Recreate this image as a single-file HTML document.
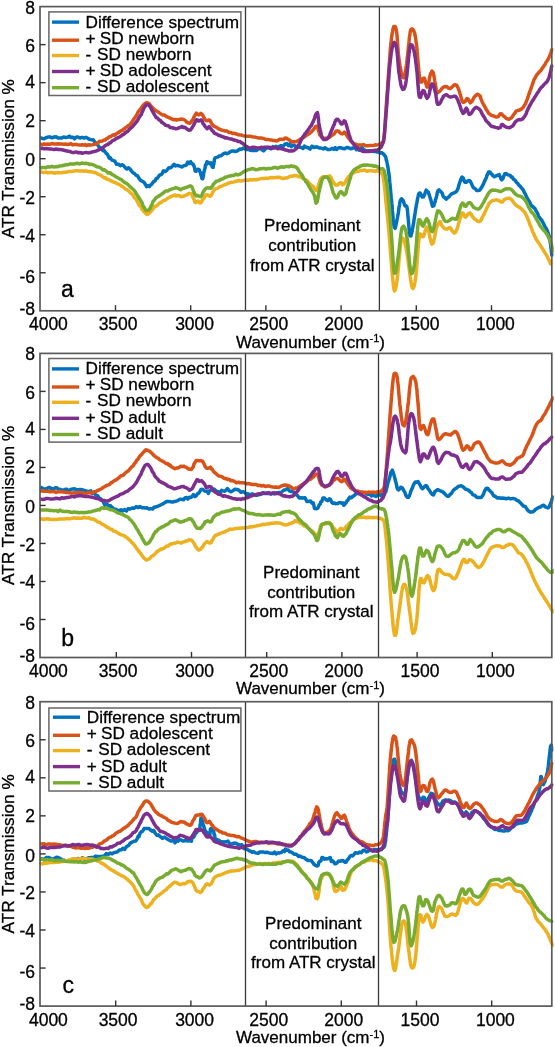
<!DOCTYPE html>
<html><head><meta charset="utf-8"><style>
html,body{margin:0;padding:0;background:#fff;overflow:hidden}
svg{display:block;will-change:transform}
text{font-family:"Liberation Sans", sans-serif;fill:#000;stroke:#000;stroke-width:0.3px}
</style></head><body>
<svg width="555" height="1047" viewBox="0 0 555 1047">
<rect width="555" height="1047" fill="#fff"/>
<clipPath id="clip0"><rect x="40.0" y="5.6" width="513.8" height="306.2"/></clipPath>
<path d="M40.0,137.5 L42.4,138.5 L44.1,138.7 L45.9,137.7 L47.9,137.1 L49.9,136.9 L52.0,137.8 L54.1,137.0 L56.1,136.7 L58.0,137.9 L59.8,137.9 L61.7,138.1 L63.6,136.9 L65.5,137.5 L67.5,137.3 L69.3,136.1 L71.1,137.6 L72.9,137.3 L74.5,138.8 L76.0,137.2 L77.4,136.9 L79.9,138.0 L82.1,137.3 L84.1,138.0 L85.9,137.3 L87.7,138.2 L89.3,139.3 L90.7,139.6 L92.1,139.9 L93.4,139.8 L94.6,141.8 L95.7,142.6 L96.8,144.2 L97.8,145.0 L98.9,147.0 L100.1,147.4 L101.5,149.0 L102.9,150.7 L104.4,150.8 L105.9,152.9 L107.5,154.5 L109.3,158.2 L110.2,157.7 L111.1,159.2 L112.0,160.2 L112.9,160.4 L114.8,161.1 L116.6,164.3 L118.5,164.2 L120.3,165.7 L122.1,164.7 L123.9,166.0 L125.5,168.0 L127.0,169.0 L128.4,167.7 L129.7,168.6 L131.2,170.6 L132.7,172.4 L134.3,173.4 L135.9,175.1 L137.6,175.8 L139.2,178.7 L140.8,180.6 L142.3,181.2 L143.9,182.2 L145.3,184.2 L146.6,186.6 L148.1,185.6 L149.4,186.6 L150.8,184.8 L151.7,184.3 L152.7,182.8 L153.8,181.4 L155.0,180.9 L156.2,178.6 L157.5,178.1 L158.9,175.9 L160.3,174.7 L161.8,174.3 L163.4,170.8 L165.1,171.6 L166.9,170.3 L168.8,167.8 L170.7,167.8 L172.4,166.2 L174.0,164.3 L175.6,165.9 L177.2,165.4 L178.6,165.8 L180.0,166.1 L181.8,167.0 L183.4,165.9 L184.9,165.5 L186.4,165.0 L187.8,162.1 L189.1,163.4 L190.7,161.7 L191.8,163.8 L192.9,164.0 L193.8,165.5 L194.5,167.7 L195.2,171.1 L196.0,171.3 L197.1,169.4 L198.2,169.3 L199.2,169.6 L199.8,171.5 L200.5,172.7 L201.0,175.4 L201.4,175.9 L201.9,178.4 L202.7,178.8 L203.0,177.3 L203.4,176.2 L203.7,173.2 L204.1,171.2 L204.5,169.9 L205.0,168.2 L205.5,164.8 L206.1,165.0 L207.0,161.8 L208.1,162.3 L209.6,163.6 L210.9,162.8 L211.4,163.9 L211.9,165.8 L212.3,167.0 L213.1,167.3 L213.4,165.1 L213.8,164.4 L214.1,161.9 L214.5,159.1 L215.2,157.9 L216.3,157.4 L217.8,157.1 L219.2,156.0 L220.8,155.8 L222.6,154.5 L224.4,153.2 L225.7,153.1 L227.0,153.7 L228.4,153.1 L230.0,151.9 L231.7,150.9 L233.4,151.0 L235.3,151.5 L237.4,150.8 L240.0,149.0 L241.5,149.4 L243.1,148.3 L244.8,148.6 L246.6,149.6 L248.5,149.5 L250.4,150.3 L252.3,150.6 L254.3,150.3 L256.2,150.6 L258.0,149.1 L259.8,148.5 L261.7,149.5 L263.6,150.9 L265.5,148.9 L267.4,147.5 L269.3,148.2 L271.1,148.8 L272.9,146.6 L274.5,147.7 L276.0,146.3 L277.4,147.5 L278.7,146.8 L281.0,145.7 L283.1,146.4 L285.0,144.0 L286.8,143.6 L288.4,145.6 L289.9,143.8 L291.2,146.6 L292.5,145.4 L294.0,145.1 L295.5,146.3 L297.0,146.8 L298.7,147.3 L300.6,147.3 L303.0,148.5 L304.5,146.0 L306.2,147.4 L308.0,147.6 L310.0,149.1 L312.0,146.2 L314.0,147.5 L316.0,146.8 L317.8,147.2 L319.5,148.1 L321.0,148.0 L323.3,149.0 L325.0,147.7 L326.5,148.7 L328.1,149.6 L330.0,149.5 L332.4,148.4 L333.8,149.4 L335.2,147.6 L336.6,149.5 L338.0,148.1 L339.4,147.7 L340.8,147.8 L342.2,148.2 L344.6,148.8 L346.7,147.6 L348.7,147.7 L350.7,148.8 L352.8,148.0 L355.2,147.7 L356.5,149.7 L357.9,148.9 L359.3,150.2 L360.7,148.7 L362.1,147.4 L363.5,149.9 L364.8,150.0 L366.2,151.2 L368.6,150.8 L371.0,151.0 L373.3,151.6 L375.4,151.3 L377.3,152.1 L378.9,151.4 L380.2,153.2 L381.8,152.7 L383.0,153.6 L384.3,154.9 L385.2,156.2 L385.7,156.8 L386.2,159.8 L386.8,161.2 L387.1,163.0 L387.4,164.5 L387.7,165.9 L388.0,167.6 L388.3,170.1 L388.6,171.8 L388.9,173.9 L389.2,175.7 L389.5,178.8 L389.8,182.4 L390.1,185.1 L390.3,187.7 L390.6,190.9 L390.9,194.1 L391.2,197.5 L391.5,200.2 L391.8,203.4 L392.1,205.9 L392.3,209.9 L392.6,212.7 L392.9,216.0 L393.2,219.7 L393.5,221.9 L393.7,224.2 L394.0,226.1 L394.3,227.3 L395.2,228.3 L395.7,226.4 L396.0,224.8 L396.3,223.2 L396.6,222.0 L396.9,220.1 L397.2,219.0 L397.5,217.5 L397.8,215.7 L398.1,214.4 L398.4,212.5 L398.7,210.3 L399.0,207.2 L399.3,206.6 L399.6,204.5 L399.8,202.6 L400.3,200.7 L400.8,199.8 L401.5,198.8 L402.7,199.9 L403.3,201.1 L404.0,202.9 L404.6,204.9 L405.1,205.9 L406.1,205.7 L407.0,207.2 L407.5,210.6 L407.7,213.3 L408.0,217.1 L408.3,219.2 L408.6,223.3 L408.9,226.6 L409.2,229.9 L409.5,233.0 L409.8,235.1 L410.1,235.9 L411.0,235.9 L411.5,233.5 L411.8,232.5 L412.1,231.4 L412.4,229.2 L412.7,227.8 L413.0,226.1 L413.3,224.3 L413.7,222.5 L414.0,219.9 L414.4,217.3 L414.8,214.8 L415.1,213.1 L415.5,210.3 L415.8,208.1 L416.2,206.5 L416.5,204.1 L416.8,203.4 L417.1,201.5 L417.4,199.6 L417.7,198.1 L417.9,197.5 L418.5,194.5 L419.1,193.2 L420.1,193.0 L420.8,194.2 L421.5,195.7 L422.3,197.1 L423.4,196.9 L424.1,195.5 L424.8,194.0 L425.5,191.8 L426.2,190.1 L427.7,191.7 L428.4,192.0 L429.1,194.6 L429.8,196.7 L430.4,198.6 L431.0,200.5 L431.6,202.8 L432.1,205.2 L432.7,206.3 L433.9,205.7 L434.5,202.8 L435.1,201.8 L435.6,199.3 L436.1,198.2 L436.6,196.1 L437.0,194.1 L437.5,191.9 L437.9,190.9 L439.1,189.9 L440.4,191.2 L441.5,192.4 L442.3,193.3 L443.0,195.9 L443.9,197.2 L444.8,197.6 L446.4,199.1 L447.7,197.6 L449.1,196.7 L450.4,195.0 L451.7,193.8 L452.8,193.3 L454.1,192.9 L455.7,192.0 L456.6,191.4 L457.6,189.2 L458.2,188.1 L458.8,185.5 L459.4,183.5 L459.9,182.0 L460.5,180.7 L461.0,178.8 L462.0,177.0 L463.1,177.9 L463.7,179.3 L464.3,181.1 L464.9,182.2 L466.1,182.3 L467.4,181.3 L468.7,180.4 L470.0,180.8 L470.9,182.4 L471.7,184.2 L472.5,186.1 L473.4,187.7 L474.4,188.3 L475.5,189.0 L476.6,190.4 L478.3,190.5 L479.8,190.1 L481.0,188.2 L481.8,187.1 L482.7,185.4 L483.6,183.5 L484.6,181.3 L485.2,179.6 L485.8,178.7 L486.4,177.6 L486.9,175.5 L487.5,174.5 L488.6,172.1 L490.0,172.0 L491.3,174.0 L492.1,174.4 L492.9,175.8 L494.4,176.7 L496.2,175.8 L497.8,175.1 L499.2,174.6 L500.2,176.9 L500.8,178.5 L501.7,179.9 L502.9,178.6 L503.5,176.7 L504.2,175.2 L504.9,173.7 L506.2,173.6 L507.9,174.9 L509.0,175.1 L510.2,175.4 L511.2,177.1 L512.3,177.0 L513.4,179.1 L514.5,179.7 L515.6,181.1 L516.6,182.4 L517.8,183.6 L518.9,185.2 L520.0,186.1 L521.0,187.3 L522.0,188.5 L522.9,189.5 L523.7,191.0 L524.5,192.8 L525.4,194.2 L526.2,195.9 L527.1,198.1 L527.9,199.2 L528.8,201.0 L529.7,202.0 L530.5,203.8 L531.4,205.8 L532.3,206.1 L533.2,206.9 L534.1,208.1 L534.9,208.6 L535.8,210.5 L536.7,211.9 L537.5,213.2 L538.4,215.7 L539.2,217.2 L540.1,218.2 L541.0,219.6 L541.9,220.4 L542.7,222.2 L543.5,223.6 L544.2,225.1 L544.8,226.4 L545.4,227.3 L546.1,228.4 L546.7,229.6 L547.4,231.1 L548.1,233.0 L548.7,234.7 L549.3,236.6 L549.9,239.8 L550.1,241.2 L550.4,242.9 L550.7,244.9 L550.9,247.0 L551.1,248.7 L551.3,250.6 L551.5,252.7 L551.7,253.8 L551.8,255.1" fill="none" stroke="#0072BD" stroke-width="3.5" stroke-linejoin="round" stroke-linecap="round" clip-path="url(#clip0)"/>
<path d="M40.0,144.1 L42.4,144.8 L44.1,143.9 L45.9,144.2 L47.9,144.1 L49.9,144.3 L52.0,143.6 L54.1,143.9 L56.1,143.9 L58.0,143.8 L59.8,143.9 L61.7,144.0 L63.5,144.2 L65.4,144.0 L67.2,144.5 L69.1,144.3 L70.9,143.6 L72.6,144.9 L74.3,144.5 L76.0,144.5 L77.6,144.8 L79.2,144.9 L80.8,144.9 L82.3,144.7 L83.8,145.1 L85.3,144.6 L86.7,145.6 L88.0,144.8 L90.5,144.9 L92.6,144.7 L94.3,144.4 L95.9,143.7 L97.6,143.3 L99.5,141.2 L101.8,141.2 L103.0,140.6 L104.2,139.9 L105.5,139.9 L106.8,138.4 L108.1,138.0 L109.4,136.7 L110.7,136.7 L112.0,135.5 L113.3,134.8 L114.6,135.3 L115.9,134.1 L117.2,133.2 L118.6,132.6 L119.9,131.4 L121.2,130.8 L122.4,130.5 L123.6,128.9 L124.7,128.8 L125.8,127.4 L126.8,127.1 L127.8,125.9 L129.6,125.0 L131.3,122.9 L132.9,120.6 L134.4,118.2 L135.8,116.4 L137.0,114.5 L138.1,112.0 L139.3,110.4 L140.7,108.9 L142.1,106.7 L143.5,104.8 L145.0,103.7 L146.5,102.6 L147.9,103.0 L149.3,103.6 L150.7,105.9 L152.1,107.2 L153.6,108.7 L155.2,110.4 L156.9,111.3 L158.7,112.3 L160.5,113.6 L162.4,114.9 L164.4,115.0 L166.6,116.7 L168.9,117.7 L171.2,118.7 L173.3,119.7 L175.1,119.4 L176.7,120.0 L178.2,119.6 L179.6,119.4 L181.4,119.1 L182.7,119.2 L183.9,119.6 L185.4,120.6 L186.9,122.2 L188.5,123.0 L189.9,123.2 L191.1,122.2 L191.8,120.8 L192.5,119.9 L193.2,119.1 L194.1,116.5 L194.7,115.9 L195.5,114.4 L196.4,113.1 L197.4,114.1 L198.6,114.9 L199.7,114.4 L200.9,113.4 L202.1,114.4 L202.9,115.5 L203.6,116.8 L204.4,118.2 L205.2,119.8 L206.1,120.5 L207.3,120.7 L208.7,120.1 L209.9,120.3 L210.8,121.9 L211.7,123.6 L212.7,124.7 L213.7,126.0 L214.8,126.7 L216.0,127.1 L217.4,127.9 L218.9,129.0 L220.7,129.6 L222.1,130.3 L223.7,130.5 L225.4,131.1 L227.2,131.1 L229.1,132.5 L230.9,132.4 L232.6,133.5 L234.4,133.3 L236.4,134.0 L238.7,134.8 L240.0,134.9 L241.5,135.0 L243.1,135.8 L244.8,136.0 L246.6,136.2 L248.5,136.2 L250.4,136.3 L252.3,136.7 L254.3,137.0 L256.2,137.4 L258.0,137.9 L259.8,137.9 L261.7,138.1 L263.7,138.5 L265.6,139.4 L267.5,139.4 L269.4,139.8 L271.2,140.1 L272.9,140.4 L274.5,140.5 L276.0,140.9 L277.3,140.7 L279.7,139.2 L281.6,139.3 L283.4,139.5 L285.1,137.9 L286.9,138.5 L288.5,139.6 L290.1,140.4 L291.6,141.9 L293.2,141.8 L294.9,141.8 L296.6,141.5 L298.4,140.4 L300.3,139.2 L302.1,138.4 L303.9,137.2 L305.8,135.9 L307.8,134.5 L309.6,133.4 L311.3,132.0 L312.6,130.5 L313.7,129.4 L314.6,127.9 L315.4,126.6 L316.6,126.2 L317.7,127.5 L318.3,129.9 L319.0,132.1 L319.7,134.7 L320.7,135.8 L321.9,137.4 L323.1,138.1 L324.5,138.2 L325.8,138.3 L327.2,138.6 L328.7,137.7 L330.3,136.7 L331.8,135.3 L333.1,134.7 L334.2,133.7 L335.1,132.5 L336.0,131.1 L337.7,130.9 L338.8,131.2 L340.0,132.8 L341.1,133.5 L342.4,133.9 L343.4,133.2 L344.4,132.0 L345.4,133.3 L346.1,134.0 L346.9,135.6 L347.8,137.0 L348.7,138.3 L349.6,138.9 L350.5,140.8 L351.5,141.7 L352.7,142.4 L354.0,143.7 L355.6,144.2 L357.3,144.9 L359.3,145.0 L361.3,145.1 L363.4,144.6 L365.7,145.7 L368.3,145.7 L369.6,145.5 L371.0,145.4 L373.4,145.6 L375.4,144.8 L376.9,145.1 L378.7,144.6 L380.0,143.7 L381.2,143.3 L382.2,142.5 L383.0,141.7 L383.5,140.1 L383.9,137.5 L384.2,135.2 L384.3,134.3 L384.5,132.8 L384.6,131.2 L384.7,129.5 L384.8,128.2 L384.9,126.4 L385.0,124.9 L385.1,123.6 L385.2,122.0 L385.3,120.4 L385.4,118.8 L385.5,117.4 L385.6,116.1 L385.7,113.8 L385.9,112.2 L386.0,109.4 L386.2,107.0 L386.4,104.1 L386.6,100.4 L386.9,96.8 L387.2,92.6 L387.5,88.9 L387.7,84.9 L388.0,80.4 L388.3,76.7 L388.6,72.9 L388.8,69.3 L389.0,67.2 L389.2,63.9 L389.5,61.2 L389.7,58.5 L389.9,55.9 L390.0,54.0 L390.2,50.9 L390.4,49.0 L390.6,46.9 L390.8,45.0 L391.0,43.3 L391.2,41.2 L391.4,39.5 L391.5,38.0 L391.7,36.9 L391.9,35.6 L392.2,33.2 L392.6,31.3 L393.0,29.1 L393.3,28.0 L393.9,26.5 L395.1,26.6 L395.8,28.1 L396.3,30.2 L396.7,32.6 L396.9,34.4 L397.1,36.3 L397.3,39.2 L397.4,41.3 L397.6,43.9 L397.8,46.7 L398.0,49.4 L398.2,52.1 L398.4,54.2 L398.7,56.6 L399.0,59.1 L399.3,61.4 L399.6,63.2 L400.0,65.6 L400.4,67.5 L400.7,69.2 L401.1,71.4 L401.4,72.8 L401.8,74.6 L402.4,76.3 L403.2,77.7 L404.2,76.7 L404.7,75.5 L405.2,72.7 L405.5,71.5 L405.8,69.9 L406.0,67.4 L406.3,65.7 L406.6,63.7 L406.9,61.1 L407.1,59.2 L407.4,56.8 L407.7,54.4 L408.0,51.6 L408.2,49.1 L408.5,46.3 L408.8,44.3 L409.1,41.2 L409.3,38.6 L409.6,36.0 L409.9,34.7 L410.1,32.5 L410.5,30.8 L410.9,29.4 L412.1,28.7 L413.2,29.7 L414.0,31.6 L414.6,32.9 L415.0,35.2 L415.5,37.5 L415.8,39.8 L416.0,41.2 L416.2,42.3 L416.4,44.1 L416.6,45.4 L416.8,47.3 L417.0,49.5 L417.2,52.0 L417.4,53.9 L417.6,56.4 L417.8,58.5 L418.0,61.4 L418.2,63.7 L418.4,65.9 L418.6,68.0 L418.8,70.2 L419.0,71.8 L419.2,73.7 L419.4,75.1 L419.5,76.5 L419.7,78.2 L420.1,80.3 L420.5,81.9 L421.7,82.1 L422.4,80.4 L423.1,78.7 L424.1,78.0 L424.8,79.2 L425.5,82.1 L425.8,83.3 L426.2,84.8 L426.9,87.0 L427.8,87.0 L428.3,85.3 L428.6,84.1 L428.8,82.3 L429.1,80.9 L429.3,79.1 L429.6,77.5 L430.1,75.5 L430.6,73.5 L431.2,72.6 L432.0,71.1 L433.1,72.4 L433.6,74.2 L433.9,75.9 L434.2,77.5 L434.5,79.1 L434.7,80.8 L435.0,82.1 L435.3,83.5 L435.7,85.7 L436.0,88.0 L436.2,90.0 L436.5,91.8 L437.5,92.8 L439.3,91.6 L440.9,89.9 L442.5,87.9 L444.0,86.8 L445.3,86.5 L447.0,86.8 L448.5,88.1 L450.1,88.7 L451.8,87.3 L452.9,86.3 L454.0,85.0 L455.5,84.8 L456.6,85.2 L457.5,86.8 L458.1,87.8 L458.8,89.8 L459.6,92.1 L460.0,93.7 L460.4,95.1 L460.9,96.8 L461.3,98.2 L461.8,99.9 L462.2,101.4 L463.1,102.4 L464.4,102.1 L465.3,101.2 L466.2,99.8 L467.0,98.5 L468.1,99.0 L468.7,100.1 L469.4,101.5 L470.3,102.9 L471.5,101.9 L472.3,100.8 L473.2,99.0 L474.1,97.2 L475.0,96.3 L476.3,94.9 L477.6,94.2 L478.9,95.0 L480.1,96.1 L480.9,98.6 L481.7,100.7 L482.6,102.7 L483.6,104.7 L484.7,106.5 L486.0,109.1 L487.3,110.9 L488.7,113.5 L490.1,114.3 L491.6,115.6 L493.3,115.7 L494.9,116.6 L496.4,117.1 L498.2,116.6 L499.2,115.3 L500.0,114.0 L501.3,113.7 L502.5,115.0 L503.4,115.9 L504.3,116.6 L505.8,118.1 L507.4,118.8 L509.0,119.3 L510.7,118.3 L511.8,117.4 L512.9,115.7 L513.9,114.3 L515.0,113.0 L516.1,111.2 L517.8,110.5 L519.4,110.0 L521.0,109.4 L522.4,108.2 L523.3,107.3 L524.1,105.7 L525.0,104.4 L525.8,103.0 L526.6,100.8 L527.5,98.6 L528.3,96.1 L528.7,94.7 L529.2,93.5 L529.6,92.2 L530.1,90.8 L530.6,89.7 L531.1,88.0 L531.6,86.7 L532.2,85.0 L532.7,83.6 L533.3,81.8 L533.8,80.4 L534.4,78.9 L535.0,78.2 L536.1,75.9 L537.2,74.3 L538.3,73.2 L539.4,71.8 L540.5,70.9 L541.5,69.5 L542.4,68.0 L543.2,67.1 L544.0,65.7 L544.9,64.8 L545.7,62.9 L546.7,61.4 L547.6,60.2 L548.5,58.4 L549.3,56.6 L549.9,55.5 L550.5,53.8 L551.0,52.8 L551.4,50.9 L551.8,49.7" fill="none" stroke="#D95319" stroke-width="3.5" stroke-linejoin="round" stroke-linecap="round" clip-path="url(#clip0)"/>
<path d="M40.0,172.1 L42.4,172.2 L44.0,172.6 L45.8,172.1 L47.8,172.7 L49.8,172.4 L51.9,172.5 L54.0,173.2 L56.0,172.7 L58.0,172.6 L59.9,172.7 L61.9,172.7 L64.0,172.2 L66.0,172.2 L68.1,171.6 L70.2,171.6 L72.2,171.4 L74.2,171.0 L76.0,170.8 L77.8,170.7 L79.5,171.1 L81.1,171.1 L82.7,171.1 L84.2,171.2 L85.6,170.8 L87.0,171.3 L88.4,171.5 L89.7,171.8 L91.0,171.6 L93.5,172.3 L95.7,172.7 L97.8,174.1 L99.8,174.8 L101.9,176.1 L104.2,178.0 L105.5,177.6 L106.8,179.0 L108.1,179.5 L109.5,179.9 L110.8,180.7 L112.1,181.3 L113.4,182.1 L114.6,182.3 L116.7,183.3 L118.7,184.3 L120.4,185.2 L122.1,186.5 L123.8,187.4 L125.6,189.3 L127.5,189.9 L129.4,191.8 L131.2,193.5 L132.9,194.9 L134.4,197.9 L135.8,198.5 L137.0,201.1 L138.1,203.0 L139.3,205.6 L140.7,206.4 L142.1,209.4 L142.8,209.9 L144.3,212.1 L145.7,213.5 L147.2,214.5 L148.6,213.5 L150.0,212.5 L151.4,210.8 L152.8,209.3 L154.4,206.4 L156.1,206.2 L157.8,204.8 L159.6,203.1 L161.5,202.1 L163.4,200.7 L165.5,200.0 L166.7,199.0 L167.8,198.2 L169.0,197.6 L171.3,196.4 L173.3,195.6 L175.0,195.0 L176.3,196.0 L177.9,195.5 L179.5,195.7 L181.1,196.7 L182.8,196.3 L184.4,196.0 L185.9,195.2 L187.4,194.4 L188.7,193.6 L190.2,193.5 L191.4,193.9 L192.3,195.4 L193.1,197.7 L193.7,198.8 L194.2,199.8 L194.8,202.1 L195.6,202.7 L196.9,201.7 L198.3,201.1 L199.3,202.6 L200.4,203.0 L201.5,202.0 L202.3,200.3 L203.1,198.9 L204.1,198.0 L205.2,196.1 L206.3,194.6 L207.7,194.9 L208.9,195.7 L210.2,196.3 L211.4,195.0 L212.2,193.2 L213.0,191.8 L213.8,190.6 L214.9,189.1 L216.2,188.7 L217.8,188.2 L219.2,187.2 L220.9,186.4 L222.6,185.8 L223.8,185.1 L225.0,184.6 L226.3,184.1 L227.7,183.4 L229.2,183.0 L230.8,182.2 L232.5,182.4 L234.3,181.9 L236.3,181.2 L238.7,180.5 L240.0,181.0 L241.5,181.1 L243.1,180.4 L244.8,180.3 L246.6,180.1 L248.5,180.3 L250.4,179.6 L252.3,180.0 L254.3,179.5 L256.2,179.7 L258.0,179.2 L259.8,178.9 L261.7,178.4 L263.7,178.4 L265.6,178.3 L267.6,178.3 L269.4,178.0 L271.3,177.5 L273.0,177.7 L274.6,177.8 L276.0,177.4 L278.4,177.3 L280.2,177.6 L281.8,178.3 L283.3,178.5 L285.0,178.0 L286.8,178.0 L288.6,177.1 L290.4,176.2 L292.2,176.2 L294.0,175.8 L295.8,175.5 L297.6,176.1 L299.4,176.8 L301.2,177.2 L303.0,178.3 L304.9,179.7 L306.8,180.4 L308.7,182.7 L310.5,184.4 L312.0,185.7 L313.2,186.4 L314.2,188.4 L315.0,189.2 L316.2,190.4 L317.5,188.7 L318.3,186.1 L318.7,184.3 L319.2,182.9 L319.6,181.8 L320.1,180.0 L321.0,178.4 L322.1,177.4 L323.8,176.6 L325.5,177.3 L326.9,176.4 L328.3,176.7 L329.6,175.9 L331.0,177.5 L332.1,180.2 L333.3,182.1 L334.4,183.6 L335.3,184.9 L336.6,185.0 L337.7,184.9 L338.8,183.8 L339.6,183.0 L340.7,182.5 L341.7,183.4 L342.5,184.7 L343.7,184.4 L344.8,182.7 L345.6,181.3 L346.5,179.5 L347.4,178.6 L348.4,176.7 L349.4,176.4 L350.4,174.4 L351.5,174.0 L352.7,172.7 L353.9,172.8 L355.7,171.6 L357.1,171.4 L358.6,171.2 L360.3,170.6 L362.4,170.4 L364.6,170.1 L366.9,171.2 L369.1,170.7 L371.1,170.7 L373.2,170.9 L375.2,171.4 L377.0,170.4 L378.7,171.4 L380.0,171.8 L381.4,173.1 L382.5,174.1 L383.1,176.6 L383.4,178.5 L383.7,180.4 L384.0,182.4 L384.3,184.2 L384.6,187.0 L384.8,189.6 L385.1,192.2 L385.3,195.0 L385.6,198.3 L385.8,201.0 L386.1,203.6 L386.4,206.4 L386.6,208.5 L386.9,211.3 L387.2,213.7 L387.5,216.2 L387.7,218.9 L388.0,221.5 L388.3,224.2 L388.5,227.1 L388.8,230.4 L389.1,233.1 L389.3,236.7 L389.6,240.2 L389.9,243.6 L390.1,247.5 L390.4,250.8 L390.7,254.8 L391.0,258.0 L391.2,261.4 L391.5,264.7 L391.8,267.9 L392.1,271.1 L392.3,274.3 L392.6,277.3 L392.9,280.2 L393.2,283.3 L393.4,285.7 L393.7,287.6 L394.0,289.6 L394.6,290.9 L395.4,289.5 L396.0,287.1 L396.3,285.0 L396.6,283.2 L396.9,281.3 L397.2,278.6 L397.5,276.2 L397.9,272.5 L398.3,269.1 L398.6,264.7 L399.0,260.6 L399.4,256.0 L399.8,252.2 L400.1,248.8 L400.5,245.6 L400.8,242.7 L401.1,241.5 L401.4,240.1 L401.9,238.1 L403.0,238.2 L403.9,239.3 L404.6,241.5 L404.9,243.1 L405.3,244.6 L405.6,246.3 L406.0,247.8 L406.4,249.7 L406.8,252.3 L407.2,254.3 L407.6,257.4 L408.1,260.5 L408.6,264.8 L409.2,268.8 L409.7,272.9 L410.2,276.7 L410.8,280.4 L411.3,283.4 L411.8,286.0 L412.2,287.5 L413.0,288.6 L414.1,286.3 L414.4,285.2 L414.8,283.1 L415.1,281.2 L415.4,278.9 L415.8,275.9 L416.2,272.7 L416.5,269.5 L416.9,264.8 L417.2,260.2 L417.6,255.2 L418.0,250.5 L418.3,245.6 L418.7,241.8 L419.0,238.4 L419.4,236.0 L419.8,234.0 L420.8,234.3 L421.5,235.7 L422.2,236.8 L423.4,236.6 L424.2,234.4 L424.6,233.0 L425.1,231.4 L425.5,230.3 L425.9,228.8 L426.8,227.1 L427.8,228.0 L428.3,229.8 L428.8,231.5 L429.3,234.1 L429.8,236.7 L430.3,239.0 L430.8,241.3 L431.3,242.9 L431.8,244.1 L433.2,243.1 L433.7,241.5 L434.1,239.3 L434.6,237.3 L435.0,234.9 L435.4,232.5 L435.8,230.7 L436.2,228.9 L436.6,227.3 L437.4,225.6 L438.1,224.0 L438.8,222.9 L439.7,221.6 L440.6,221.9 L440.9,223.7 L441.5,225.0 L442.6,226.4 L443.5,227.4 L444.4,228.5 L445.8,229.1 L447.5,229.0 L448.7,228.0 L450.1,227.6 L451.1,228.9 L452.1,230.9 L453.2,231.8 L454.3,233.2 L455.5,232.3 L456.8,229.6 L457.5,227.6 L458.2,225.3 L458.9,222.5 L459.6,220.2 L460.3,217.9 L460.9,215.9 L461.5,213.9 L462.5,212.8 L463.5,213.8 L464.1,215.5 L464.6,216.3 L465.7,217.2 L466.9,215.4 L467.8,214.5 L468.7,213.5 L470.0,212.9 L471.3,214.2 L472.1,216.0 L473.0,217.4 L473.9,218.2 L474.9,219.3 L476.0,219.8 L477.2,221.0 L478.8,221.7 L480.2,221.1 L481.4,219.7 L482.2,217.6 L483.1,215.6 L484.2,214.1 L484.7,212.6 L485.4,211.4 L486.0,210.0 L486.6,208.5 L487.3,207.2 L488.0,205.8 L488.7,203.9 L489.4,203.1 L490.8,201.9 L492.4,200.5 L494.0,200.3 L495.6,200.0 L497.1,199.9 L498.8,200.6 L500.1,201.4 L501.3,202.0 L502.7,202.0 L503.6,200.4 L504.5,199.3 L505.8,198.9 L507.3,198.4 L509.0,198.1 L510.7,199.0 L511.8,199.9 L512.9,201.4 L513.9,202.9 L515.0,204.2 L516.1,205.3 L517.2,206.2 L518.9,207.0 L520.5,208.2 L522.0,209.4 L523.3,210.7 L524.1,211.5 L525.0,212.6 L525.8,214.3 L526.6,215.8 L527.5,218.0 L528.3,219.8 L529.2,222.4 L530.1,225.2 L530.6,225.9 L531.1,227.1 L531.6,228.7 L532.2,230.4 L532.7,231.8 L533.3,232.8 L533.8,234.1 L534.4,235.4 L535.0,236.5 L536.0,238.8 L537.1,240.7 L538.2,242.1 L539.4,243.9 L540.5,245.6 L541.5,247.2 L542.7,248.9 L543.8,251.0 L544.9,252.9 L545.9,254.2 L546.9,255.9 L547.9,258.1 L548.9,259.9 L549.8,261.7 L550.4,263.6 L550.7,263.8" fill="none" stroke="#EDB120" stroke-width="3.5" stroke-linejoin="round" stroke-linecap="round" clip-path="url(#clip0)"/>
<path d="M40.0,148.3 L42.4,148.4 L44.0,148.7 L45.8,148.5 L47.8,148.8 L49.8,149.1 L51.9,149.1 L54.0,149.6 L56.0,149.0 L58.0,149.5 L59.9,149.5 L62.0,149.8 L64.0,150.3 L66.1,150.8 L68.2,151.3 L70.3,151.6 L72.3,152.5 L74.3,152.4 L76.1,151.9 L77.8,152.7 L79.4,152.6 L80.9,152.7 L82.2,153.3 L83.6,152.9 L86.0,152.4 L88.3,152.9 L90.5,152.5 L92.5,151.9 L94.2,151.5 L95.8,151.1 L97.5,150.5 L99.5,149.4 L101.8,148.2 L103.0,148.0 L104.2,146.4 L105.5,145.5 L106.8,144.8 L108.1,144.3 L109.4,142.9 L110.7,142.7 L112.0,141.0 L113.3,140.3 L114.6,139.8 L115.9,138.7 L117.2,138.0 L118.6,137.5 L119.9,136.8 L121.2,135.8 L122.4,134.8 L123.6,134.5 L124.7,133.4 L125.8,132.4 L127.8,131.3 L129.6,129.0 L131.3,127.7 L132.9,126.2 L134.4,124.4 L135.8,122.6 L137.0,121.3 L138.1,119.3 L139.3,117.4 L140.7,115.1 L141.4,114.4 L142.0,112.3 L142.7,111.1 L143.4,109.3 L144.1,107.6 L144.9,106.6 L146.4,104.7 L148.0,104.7 L149.8,106.1 L150.8,108.0 L151.7,109.8 L152.6,111.4 L153.6,113.2 L154.5,114.9 L155.4,116.0 L156.2,117.6 L157.7,118.2 L159.0,119.9 L160.3,120.4 L161.8,122.4 L163.4,123.3 L165.4,125.1 L167.6,125.8 L168.8,125.9 L170.0,127.5 L172.2,127.7 L174.2,128.3 L175.9,128.7 L177.5,128.6 L179.0,127.7 L180.2,127.4 L181.9,126.4 L183.3,127.5 L184.6,127.3 L185.9,128.1 L187.5,129.4 L189.0,130.2 L190.3,130.1 L191.5,128.5 L192.2,127.6 L192.8,126.5 L193.5,125.5 L194.2,123.9 L194.9,122.6 L195.5,121.3 L196.4,119.8 L197.6,119.9 L198.5,121.1 L199.6,120.8 L200.5,120.0 L201.6,119.9 L202.2,121.0 L202.9,123.5 L203.7,124.2 L204.3,125.3 L205.0,126.3 L206.0,127.5 L207.2,128.7 L208.2,127.2 L209.3,126.6 L210.5,128.1 L211.4,129.6 L212.4,130.7 L213.4,131.6 L214.3,133.2 L215.5,133.7 L217.1,134.1 L218.3,135.2 L219.5,135.5 L220.9,136.0 L222.3,136.7 L223.7,137.0 L225.2,138.0 L226.7,137.8 L228.3,138.3 L230.0,139.0 L231.9,139.1 L234.0,140.1 L236.1,140.4 L238.1,141.4 L240.0,141.5 L241.6,142.9 L242.9,143.4 L244.2,144.9 L245.6,146.0 L247.2,146.9 L249.0,147.8 L250.9,148.0 L253.0,147.2 L255.3,147.4 L258.0,148.1 L259.5,147.9 L261.1,147.3 L262.9,147.8 L264.7,147.3 L266.6,147.3 L268.5,147.2 L270.4,147.5 L272.3,148.2 L274.2,147.7 L276.0,147.7 L277.8,148.7 L279.7,148.2 L281.7,148.8 L283.6,149.3 L285.6,150.0 L287.4,150.3 L289.3,151.1 L291.0,150.8 L292.6,150.9 L294.0,150.5 L295.3,149.4 L296.4,148.4 L297.4,147.5 L298.2,145.4 L299.1,144.6 L299.8,143.0 L300.6,141.4 L301.3,139.7 L302.1,138.3 L303.0,136.7 L303.9,135.7 L304.9,133.7 L305.8,133.2 L306.8,131.4 L307.7,130.5 L308.7,129.0 L309.6,127.8 L310.4,126.4 L311.3,125.8 L312.0,123.9 L312.7,122.5 L313.3,121.5 L313.9,119.9 L314.5,118.3 L315.0,116.4 L315.5,115.1 L316.3,113.5 L317.4,112.5 L317.9,114.9 L318.1,116.3 L318.3,117.8 L318.5,119.1 L318.6,121.8 L318.8,123.0 L319.0,124.6 L319.3,125.9 L319.6,127.1 L319.9,128.7 L320.2,130.3 L320.6,131.5 L320.9,133.2 L321.3,134.9 L321.6,136.0 L322.5,137.9 L323.4,139.4 L325.1,139.6 L326.9,138.9 L328.3,137.5 L329.1,136.2 L329.6,135.5 L330.3,133.4 L331.1,131.5 L331.9,129.8 L332.8,127.4 L333.6,125.4 L334.3,124.6 L334.9,122.0 L335.4,121.2 L335.9,120.0 L336.7,119.2 L338.0,119.5 L339.1,121.0 L340.0,121.8 L340.9,123.6 L341.6,124.1 L342.8,123.5 L343.3,122.4 L344.1,120.8 L345.2,121.3 L345.7,123.2 L346.2,124.2 L346.8,126.8 L347.4,128.7 L348.1,131.0 L348.8,133.6 L349.2,135.5 L349.6,135.9 L350.1,137.9 L350.9,140.2 L351.9,141.7 L352.8,143.1 L353.8,144.3 L354.9,145.6 L356.1,147.6 L357.4,147.4 L358.9,149.2 L360.5,149.8 L362.2,151.3 L363.9,151.4 L365.5,151.2 L367.1,151.5 L368.8,151.6 L370.4,151.3 L372.0,150.7 L373.4,150.6 L374.9,150.3 L376.3,150.3 L377.6,149.9 L378.8,149.3 L379.9,148.2 L380.9,147.4 L381.7,145.7 L382.5,144.2 L383.1,142.7 L383.6,141.1 L383.9,139.6 L384.1,137.8 L384.3,136.5 L384.5,133.7 L384.6,132.3 L384.8,130.1 L384.9,128.3 L385.1,126.0 L385.3,123.7 L385.5,121.6 L385.7,118.5 L385.9,116.0 L386.1,112.7 L386.4,110.2 L386.6,107.0 L386.9,103.5 L387.1,99.9 L387.4,95.7 L387.7,91.8 L388.0,87.9 L388.3,83.3 L388.6,80.1 L388.9,76.3 L389.1,72.5 L389.4,69.4 L389.6,66.8 L389.9,64.5 L390.1,62.5 L390.3,61.1 L390.5,58.7 L390.7,57.5 L390.9,56.2 L391.0,54.4 L391.2,53.2 L391.6,51.0 L391.9,48.8 L392.2,47.8 L392.7,46.4 L393.1,44.5 L393.5,43.0 L394.2,42.3 L395.3,43.6 L396.0,45.3 L396.5,47.5 L396.7,48.8 L396.9,50.5 L397.1,52.4 L397.3,54.2 L397.5,56.3 L397.7,58.6 L397.9,61.7 L398.1,63.6 L398.3,65.9 L398.5,68.7 L398.7,70.4 L398.9,72.5 L399.2,73.9 L399.5,75.7 L399.7,77.5 L400.0,79.5 L400.3,81.1 L400.6,82.6 L400.8,84.4 L401.4,86.5 L401.9,87.6 L402.8,89.4 L404.1,89.0 L404.6,87.5 L405.1,86.3 L405.7,83.6 L405.9,82.3 L406.2,80.3 L406.4,78.4 L406.7,77.0 L407.0,74.6 L407.2,71.9 L407.5,69.2 L407.8,66.2 L408.1,63.1 L408.4,59.9 L408.6,57.1 L408.9,54.9 L409.2,52.2 L409.4,50.0 L409.6,49.1 L410.0,46.5 L410.6,44.7 L411.9,44.9 L412.7,46.2 L413.3,48.4 L413.8,50.0 L414.4,52.5 L414.6,54.1 L414.9,55.9 L415.2,57.4 L415.5,59.4 L415.7,61.5 L416.0,63.7 L416.3,65.5 L416.5,68.1 L416.8,70.3 L417.1,72.8 L417.3,75.5 L417.5,78.4 L417.8,82.1 L418.0,85.3 L418.3,88.1 L418.5,90.9 L418.8,93.7 L419.1,95.9 L419.4,97.0 L420.5,97.4 L421.3,94.8 L421.7,93.5 L422.1,92.3 L423.0,90.6 L424.2,90.9 L425.0,93.5 L425.4,95.0 L426.2,96.7 L427.1,98.3 L428.4,96.5 L428.9,95.0 L429.4,93.1 L429.8,90.8 L430.3,89.1 L430.8,86.6 L431.2,85.0 L432.1,83.8 L433.2,84.6 L433.9,86.3 L434.2,88.0 L434.6,89.3 L434.9,90.6 L435.2,91.7 L435.8,93.8 L436.0,95.1 L436.2,97.0 L436.4,98.5 L436.7,100.0 L436.9,101.4 L437.1,103.0 L437.8,104.3 L439.3,104.0 L440.6,102.4 L441.3,100.5 L442.0,99.1 L442.7,98.1 L443.4,96.3 L444.7,95.4 L446.4,94.7 L448.0,95.9 L449.0,96.6 L450.6,97.1 L452.4,96.6 L454.0,96.3 L455.5,96.2 L456.6,97.7 L457.2,98.9 L457.8,99.9 L458.4,101.8 L459.2,103.6 L460.0,106.0 L460.5,107.5 L460.9,108.9 L461.4,110.2 L462.3,111.9 L463.1,113.5 L464.2,112.6 L464.8,111.4 L465.4,109.3 L466.4,108.1 L467.3,109.6 L467.9,111.6 L468.5,113.0 L469.2,114.4 L470.6,114.0 L471.7,112.6 L472.8,110.7 L474.0,109.0 L475.0,108.1 L476.3,107.3 L477.9,108.2 L479.3,109.2 L480.5,110.4 L481.7,113.0 L482.4,114.5 L483.1,115.5 L483.8,116.7 L484.5,117.5 L485.8,120.3 L487.1,121.7 L488.3,122.8 L489.6,124.4 L490.9,125.9 L492.3,126.6 L493.8,126.8 L495.5,127.4 L497.2,127.8 L498.7,128.2 L500.3,127.5 L501.0,126.4 L501.4,124.9 L502.3,124.4 L503.5,125.2 L504.9,126.5 L506.4,127.3 L507.9,127.6 L509.6,127.8 L511.3,126.8 L512.3,126.3 L513.4,125.0 L514.4,123.3 L515.5,121.7 L516.6,120.9 L517.8,119.9 L519.7,119.6 L521.0,119.7 L522.3,119.2 L523.6,117.8 L524.9,115.9 L525.5,114.8 L526.2,113.8 L526.8,111.7 L527.5,110.1 L528.1,108.9 L528.8,107.5 L529.4,106.0 L530.1,105.1 L530.8,103.8 L531.4,102.6 L532.0,101.5 L533.4,99.6 L534.6,97.5 L536.0,95.4 L537.3,93.1 L538.6,91.5 L539.9,89.2 L541.2,87.4 L542.5,86.5 L543.7,84.9 L544.9,83.6 L546.0,82.7 L547.1,81.6 L548.0,79.9 L548.9,77.9 L549.3,76.6 L549.7,75.3 L550.1,73.6 L550.5,71.8 L550.8,71.0 L551.1,69.0 L551.6,66.7 L551.8,66.0" fill="none" stroke="#7E2F8E" stroke-width="3.5" stroke-linejoin="round" stroke-linecap="round" clip-path="url(#clip0)"/>
<path d="M40.0,168.1 L42.4,167.5 L44.0,167.4 L45.8,167.8 L47.8,166.7 L49.8,167.1 L51.9,166.3 L54.0,167.1 L56.0,166.6 L58.0,166.7 L59.9,165.9 L61.9,165.8 L64.0,165.3 L66.0,164.8 L68.1,164.7 L70.2,163.9 L72.2,163.9 L74.2,164.0 L76.0,163.6 L77.8,163.3 L79.5,164.0 L81.1,163.3 L82.7,163.1 L84.2,163.4 L85.6,163.3 L87.0,163.5 L88.4,163.7 L89.7,164.6 L91.0,164.2 L92.3,164.6 L94.7,165.4 L96.8,166.7 L98.8,167.0 L100.8,168.0 L103.0,170.1 L104.2,169.6 L105.5,170.6 L106.8,171.6 L108.1,172.9 L109.5,172.7 L110.8,173.0 L112.1,174.7 L113.4,175.1 L114.6,175.8 L115.7,176.7 L117.7,177.8 L119.6,178.8 L121.3,179.6 L123.0,181.2 L124.7,182.5 L126.5,183.4 L128.4,184.8 L130.3,186.9 L132.1,188.5 L133.7,189.8 L135.1,191.7 L136.4,194.0 L137.5,195.5 L138.7,197.4 L140.0,199.6 L140.7,200.6 L141.4,202.0 L142.1,202.8 L142.8,205.4 L143.5,206.4 L144.3,207.5 L145.0,209.2 L146.5,210.6 L147.9,210.5 L149.3,209.3 L150.0,208.5 L150.7,206.6 L151.4,205.5 L152.1,204.2 L152.8,201.9 L153.6,200.8 L154.4,200.1 L156.1,197.7 L157.8,196.6 L159.6,195.6 L161.5,194.2 L163.4,192.9 L165.5,191.0 L167.8,191.1 L170.2,189.6 L172.3,188.9 L174.2,188.3 L175.7,187.6 L177.4,188.1 L178.9,188.7 L180.6,189.7 L182.2,188.6 L183.9,188.3 L185.4,187.7 L186.9,187.3 L188.3,186.6 L189.5,186.1 L190.8,186.0 L191.8,186.5 L192.6,188.7 L193.4,190.6 L194.0,192.3 L194.5,193.4 L195.3,194.8 L196.4,195.9 L197.7,195.4 L199.1,196.2 L200.4,196.7 L201.5,195.7 L202.0,195.0 L202.5,193.3 L203.1,192.2 L204.1,190.6 L205.1,189.3 L206.3,188.1 L207.7,187.7 L209.2,187.9 L210.6,188.3 L211.7,187.0 L212.4,186.3 L213.1,184.8 L213.8,183.7 L214.9,182.7 L216.2,181.3 L217.8,180.9 L219.2,180.5 L220.9,179.3 L222.6,178.9 L224.4,177.9 L225.7,177.0 L227.0,177.1 L228.4,176.3 L230.0,176.1 L231.8,175.5 L233.8,175.4 L235.9,174.2 L238.0,175.0 L240.0,174.2 L241.9,172.9 L243.7,171.7 L245.4,170.9 L247.2,170.1 L249.0,169.4 L250.7,169.2 L252.2,168.5 L253.8,168.9 L255.6,169.7 L258.0,169.4 L259.4,168.8 L261.0,168.8 L262.7,168.5 L264.6,168.5 L266.4,169.0 L268.4,168.4 L270.3,168.6 L272.3,168.2 L274.2,167.5 L276.0,167.6 L277.8,168.3 L279.8,167.2 L281.7,166.8 L283.7,167.2 L285.7,166.6 L287.6,166.4 L289.4,166.7 L291.1,165.7 L292.6,166.5 L294.0,166.3 L296.1,167.2 L297.7,168.8 L298.9,171.2 L300.0,172.7 L301.3,174.1 L302.8,176.4 L303.5,178.3 L304.3,179.2 L305.0,179.7 L305.8,181.9 L306.5,182.2 L307.2,183.0 L308.5,185.5 L309.7,187.7 L310.9,189.7 L312.0,191.3 L313.0,192.6 L313.9,194.3 L314.6,196.2 L315.2,199.1 L315.6,201.3 L316.1,203.2 L317.1,202.0 L317.6,199.9 L317.9,198.3 L318.2,196.6 L318.4,195.0 L318.7,193.5 L319.0,191.9 L319.3,191.1 L319.6,189.6 L319.9,187.8 L320.3,186.9 L320.6,185.3 L320.9,184.3 L321.3,182.4 L321.7,181.1 L322.5,178.8 L323.4,177.8 L325.0,176.9 L326.7,177.0 L327.8,177.7 L328.8,179.3 L329.8,181.4 L330.3,182.8 L330.7,183.9 L331.2,185.8 L331.6,186.9 L332.0,188.3 L332.4,189.9 L333.1,192.5 L333.8,193.8 L334.3,194.9 L335.0,196.4 L335.9,198.0 L337.1,197.7 L337.9,196.5 L338.5,194.7 L339.2,193.4 L340.0,192.1 L341.1,191.6 L342.3,192.8 L343.2,194.3 L344.3,195.0 L345.5,194.0 L346.0,193.0 L346.4,190.7 L347.0,188.9 L347.8,185.9 L348.3,184.6 L348.8,183.2 L349.3,180.9 L349.8,179.2 L350.4,178.3 L350.9,175.6 L351.5,174.0 L352.1,172.6 L352.7,171.6 L353.9,169.9 L355.2,169.1 L356.6,168.3 L358.0,167.4 L359.4,166.8 L360.9,165.8 L362.5,165.3 L364.1,165.1 L365.8,165.3 L367.4,164.9 L369.0,165.2 L370.7,165.4 L372.4,165.4 L374.0,166.4 L375.4,166.0 L376.7,166.5 L378.4,167.3 L379.9,168.7 L381.2,169.0 L382.7,168.8 L384.0,170.6 L384.7,173.0 L385.0,174.2 L385.4,175.8 L385.7,177.9 L386.1,179.9 L386.5,182.1 L386.8,184.2 L387.2,187.1 L387.5,190.0 L387.9,192.6 L388.3,196.7 L388.6,200.3 L389.0,204.4 L389.4,209.4 L389.8,213.5 L390.1,218.0 L390.5,222.8 L390.8,227.5 L391.2,232.0 L391.5,236.0 L391.8,240.0 L392.1,244.5 L392.4,249.0 L392.6,253.6 L392.9,258.2 L393.2,262.2 L393.4,266.0 L393.7,269.0 L394.0,271.4 L394.3,273.2 L395.3,273.1 L395.7,272.1 L396.1,270.0 L396.4,268.2 L396.8,265.9 L397.2,263.2 L397.5,261.3 L397.9,258.9 L398.3,256.1 L398.6,253.8 L399.0,250.7 L399.4,247.1 L399.7,244.2 L400.1,240.5 L400.5,237.1 L400.8,234.6 L401.2,232.0 L401.5,229.9 L401.8,228.4 L402.4,227.1 L403.6,226.2 L404.4,227.5 L405.2,229.2 L405.8,230.8 L406.3,233.2 L406.6,235.3 L406.9,237.1 L407.2,239.0 L407.5,241.3 L407.9,244.5 L408.2,248.3 L408.6,252.7 L409.0,256.6 L409.3,260.4 L409.7,263.9 L410.1,267.5 L410.4,269.9 L410.8,271.8 L411.5,273.6 L412.6,273.0 L413.3,270.5 L413.7,268.7 L414.0,266.9 L414.4,265.0 L414.8,261.8 L415.1,257.8 L415.5,254.2 L415.9,249.3 L416.3,245.1 L416.7,239.4 L417.0,234.9 L417.4,230.7 L417.7,227.3 L418.0,224.4 L418.3,222.3 L418.5,220.8 L418.9,219.7 L419.9,220.0 L420.9,221.5 L421.4,223.7 L422.0,225.0 L423.0,226.1 L424.2,224.0 L425.0,222.0 L425.9,219.8 L426.8,218.7 L428.3,220.7 L428.8,222.3 L429.3,224.0 L429.8,225.9 L430.3,227.5 L430.8,229.3 L431.3,230.8 L432.3,231.6 L433.2,229.8 L433.7,228.4 L434.2,226.2 L434.7,224.0 L435.1,222.0 L435.5,219.5 L435.9,217.8 L436.3,215.9 L436.6,214.7 L437.1,213.0 L437.5,210.9 L438.7,210.9 L440.0,211.9 L441.1,213.5 L441.9,214.7 L442.6,216.6 L443.5,218.2 L444.3,220.3 L445.3,221.2 L447.0,221.6 L448.3,221.0 L449.8,220.2 L451.1,219.0 L452.3,218.3 L453.7,218.6 L454.9,219.1 L456.1,219.3 L457.1,217.6 L457.6,216.1 L458.2,214.4 L458.8,212.4 L459.4,210.5 L459.9,208.8 L460.5,206.7 L461.0,205.1 L461.5,204.4 L462.4,203.1 L463.4,203.6 L464.0,204.9 L464.6,206.1 L466.1,206.3 L466.9,204.8 L467.8,203.6 L468.7,202.7 L470.0,202.7 L471.3,203.8 L472.1,205.3 L473.0,206.5 L473.9,207.5 L475.5,208.3 L477.2,209.0 L478.8,209.0 L480.2,207.7 L481.0,206.7 L481.8,205.4 L482.6,204.0 L483.6,202.3 L484.8,199.9 L485.4,199.0 L486.1,197.5 L486.8,196.6 L487.5,195.0 L488.2,193.8 L489.5,192.0 L490.7,190.9 L492.3,190.0 L493.9,190.2 L495.5,190.3 L497.2,190.6 L498.8,191.1 L500.4,191.6 L501.8,191.0 L503.1,190.4 L504.4,189.5 L505.8,188.7 L507.4,188.9 L509.0,188.6 L510.7,189.1 L511.8,189.9 L512.9,191.1 L513.9,192.5 L515.0,193.7 L516.1,194.5 L517.8,195.6 L519.4,196.0 L521.0,196.4 L522.4,197.5 L523.7,198.7 L525.0,200.0 L525.8,201.2 L526.6,202.6 L527.5,204.5 L528.3,206.6 L529.2,208.1 L530.1,209.4 L531.1,211.6 L532.2,212.6 L533.3,213.9 L534.4,215.2 L535.5,217.4 L536.6,219.4 L537.7,221.4 L538.8,223.2 L539.9,225.5 L541.0,227.0 L542.1,228.4 L543.2,229.7 L544.3,230.9 L545.4,232.1 L546.4,233.6 L547.4,234.7 L548.3,237.1 L549.2,238.5 L550.0,240.6 L550.7,242.0 L551.3,244.1 L551.8,246.0 L552.2,247.7 L552.5,249.7 L552.8,250.8" fill="none" stroke="#77AC30" stroke-width="3.5" stroke-linejoin="round" stroke-linecap="round" clip-path="url(#clip0)"/>
<line x1="245.5" y1="6.6" x2="245.5" y2="310.8" stroke="#383838" stroke-width="1.3"/>
<line x1="379.4" y1="6.6" x2="379.4" y2="310.8" stroke="#383838" stroke-width="1.3"/>
<rect x="40.0" y="6.6" width="511.79999999999995" height="304.2" fill="none" stroke="#5a5a5a" stroke-width="1.7"/>
<text x="35" y="315.05" text-anchor="end" font-size="17.5">-8</text>
<line x1="40.0" y1="272.78" x2="45.6" y2="272.78" stroke="#333" stroke-width="1.4"/>
<text x="35" y="282.75" text-anchor="end" font-size="17.5">-6</text>
<line x1="40.0" y1="234.75" x2="45.6" y2="234.75" stroke="#333" stroke-width="1.4"/>
<text x="35" y="241.50" text-anchor="end" font-size="17.5">-4</text>
<line x1="40.0" y1="196.72" x2="45.6" y2="196.72" stroke="#333" stroke-width="1.4"/>
<text x="35" y="203.90" text-anchor="end" font-size="17.5">-2</text>
<line x1="40.0" y1="158.70" x2="45.6" y2="158.70" stroke="#333" stroke-width="1.4"/>
<text x="35" y="166.40" text-anchor="end" font-size="17.5">0</text>
<line x1="40.0" y1="120.67" x2="45.6" y2="120.67" stroke="#333" stroke-width="1.4"/>
<text x="35" y="126.50" text-anchor="end" font-size="17.5">2</text>
<line x1="40.0" y1="82.65" x2="45.6" y2="82.65" stroke="#333" stroke-width="1.4"/>
<text x="35" y="87.80" text-anchor="end" font-size="17.5">4</text>
<line x1="40.0" y1="44.62" x2="45.6" y2="44.62" stroke="#333" stroke-width="1.4"/>
<text x="35" y="52.30" text-anchor="end" font-size="17.5">6</text>
<text x="35" y="13.60" text-anchor="end" font-size="17.5">8</text>
<text x="48.40" y="330.40" text-anchor="middle" font-size="17.5">4000</text>
<line x1="115.50" y1="310.8" x2="115.50" y2="305.2" stroke="#333" stroke-width="1.4"/>
<text x="118.10" y="330.40" text-anchor="middle" font-size="17.5">3500</text>
<line x1="190.70" y1="310.8" x2="190.70" y2="305.2" stroke="#333" stroke-width="1.4"/>
<text x="194.60" y="330.40" text-anchor="middle" font-size="17.5">3000</text>
<line x1="265.90" y1="310.8" x2="265.90" y2="305.2" stroke="#333" stroke-width="1.4"/>
<text x="268.80" y="330.40" text-anchor="middle" font-size="17.5">2500</text>
<line x1="341.10" y1="310.8" x2="341.10" y2="305.2" stroke="#333" stroke-width="1.4"/>
<text x="343.80" y="330.40" text-anchor="middle" font-size="17.5">2000</text>
<line x1="416.30" y1="310.8" x2="416.30" y2="305.2" stroke="#333" stroke-width="1.4"/>
<text x="420.00" y="330.40" text-anchor="middle" font-size="17.5">1500</text>
<line x1="491.50" y1="310.8" x2="491.50" y2="305.2" stroke="#333" stroke-width="1.4"/>
<text x="495.40" y="330.40" text-anchor="middle" font-size="17.5">1000</text>
<text x="236" y="347.60" font-size="17">Wavenumber (cm<tspan font-size="11" dy="-5.3">-1</tspan><tspan dy="5.3">)</tspan></text>
<text transform="translate(13.6,158.7) rotate(-90)" text-anchor="middle" font-size="17.2">ATR Transmission %</text>
<rect x="48.9" y="11.90" width="192.0" height="83.60" fill="#fff" stroke="#666" stroke-width="1.5"/>
<line x1="52" y1="22.10" x2="79" y2="22.10" stroke="#0072BD" stroke-width="3.4"/>
<text x="85.60" y="27.50" font-size="17.2">Difference spectrum</text>
<line x1="52" y1="40.20" x2="79" y2="40.20" stroke="#D95319" stroke-width="3.4"/>
<text x="85.60" y="43.50" font-size="17.2">+<tspan dx="-0.7"> SD newborn</tspan></text>
<line x1="52" y1="55.50" x2="79" y2="55.50" stroke="#EDB120" stroke-width="3.4"/>
<text x="85.60" y="59.50" font-size="17.2">-<tspan dx="0.9"> SD newborn</tspan></text>
<line x1="52" y1="71.50" x2="79" y2="71.50" stroke="#7E2F8E" stroke-width="3.4"/>
<text x="85.60" y="75.80" font-size="17.2">+<tspan dx="-0.7"> SD adolescent</tspan></text>
<line x1="52" y1="87.70" x2="79" y2="87.70" stroke="#77AC30" stroke-width="3.4"/>
<text x="85.60" y="91.70" font-size="17.2">-<tspan dx="0.9"> SD adolescent</tspan></text>
<text x="312.30" y="231.40" text-anchor="middle" font-size="17">Predominant</text>
<text x="312.30" y="251.20" text-anchor="middle" font-size="17">contribution</text>
<text x="312.30" y="271.00" text-anchor="middle" font-size="17">from ATR crystal</text>
<text x="61.00" y="296.90" font-size="23">a</text>
<clipPath id="clip1"><rect x="40.0" y="352.4" width="513.8" height="306.1"/></clipPath>
<path d="M40.0,488.6 L41.4,487.6 L43.3,488.7 L45.6,489.1 L48.1,487.9 L49.5,487.3 L50.8,488.3 L52.2,488.7 L53.7,489.3 L55.2,487.7 L56.8,487.7 L58.4,489.4 L60.1,489.3 L61.8,490.3 L63.6,490.0 L65.3,489.3 L67.0,489.3 L68.8,491.5 L70.6,489.4 L72.6,489.0 L74.5,488.8 L76.5,489.7 L78.4,489.8 L80.2,489.4 L81.9,489.7 L83.6,490.1 L85.0,490.6 L87.4,491.5 L89.2,491.5 L90.8,490.8 L92.3,493.6 L94.0,493.0 L95.8,495.2 L97.6,495.7 L99.5,498.3 L101.3,499.3 L103.1,501.5 L104.9,505.1 L106.7,504.0 L108.5,506.0 L110.3,505.6 L112.1,507.4 L113.9,509.0 L115.7,509.2 L117.5,510.2 L119.3,510.5 L121.1,509.8 L122.9,510.9 L124.7,509.5 L126.4,511.0 L128.2,508.6 L130.1,509.0 L132.0,508.1 L134.0,508.3 L136.1,506.7 L138.1,507.6 L140.0,506.6 L141.9,507.8 L143.7,507.8 L145.4,508.0 L147.2,507.8 L149.0,509.1 L150.8,508.6 L152.6,509.0 L154.4,506.9 L156.2,506.9 L158.0,506.2 L159.8,505.3 L161.6,504.5 L163.4,503.7 L165.2,502.4 L167.0,501.4 L168.9,501.4 L170.8,501.8 L172.8,502.1 L174.5,501.4 L176.0,501.2 L177.5,500.6 L178.7,500.0 L180.0,499.2 L182.0,499.3 L183.5,499.8 L185.0,497.9 L186.5,497.4 L187.9,499.0 L189.2,497.3 L190.5,497.4 L191.8,496.8 L193.5,494.6 L195.0,496.7 L196.4,495.6 L197.6,493.6 L198.8,493.1 L199.9,491.3 L201.0,489.4 L202.2,489.3 L203.5,490.1 L204.9,491.1 L206.3,491.2 L207.4,491.4 L208.4,493.4 L209.5,490.8 L210.2,490.5 L211.2,489.7 L212.7,488.9 L214.0,488.9 L215.5,490.5 L217.1,491.7 L219.0,491.8 L220.3,492.4 L221.6,490.3 L223.0,490.9 L224.4,491.2 L225.9,490.4 L227.5,488.5 L229.1,490.8 L230.9,491.8 L232.9,490.7 L234.9,489.2 L237.0,489.5 L239.0,490.2 L240.9,492.3 L242.8,491.7 L244.6,492.2 L246.3,494.3 L248.1,493.8 L249.9,495.7 L251.4,493.9 L252.9,494.0 L254.6,494.8 L256.7,495.2 L259.5,494.5 L261.1,494.2 L262.9,492.6 L264.9,493.4 L266.8,493.4 L268.8,493.4 L270.8,494.1 L272.7,493.3 L274.4,494.0 L276.0,493.3 L277.4,492.7 L278.8,492.6 L280.1,492.4 L281.4,492.2 L283.7,490.2 L285.8,489.6 L287.7,488.5 L289.3,490.9 L290.5,491.5 L291.5,491.1 L292.6,491.9 L294.0,492.3 L295.6,494.3 L297.4,495.4 L299.3,498.1 L301.2,497.7 L303.1,498.0 L305.0,497.7 L306.9,501.5 L308.8,501.4 L310.5,500.9 L312.1,503.2 L313.4,503.1 L314.5,508.5 L315.5,508.2 L316.5,508.8 L318.0,508.0 L319.1,505.0 L320.2,504.2 L320.7,502.0 L321.8,501.4 L322.9,497.9 L324.6,498.1 L326.3,499.9 L327.9,500.6 L329.3,498.9 L330.4,499.4 L331.8,502.3 L333.1,503.4 L334.4,503.0 L335.7,503.8 L337.4,503.6 L339.0,502.7 L340.5,502.5 L341.8,503.3 L343.2,503.0 L343.8,505.3 L345.0,503.9 L346.1,502.7 L346.9,501.0 L347.8,500.5 L348.7,498.5 L349.7,497.2 L350.7,498.0 L351.8,497.5 L352.9,496.2 L354.0,495.8 L355.5,494.3 L357.0,493.2 L358.8,493.6 L360.1,493.2 L361.6,492.7 L363.2,492.4 L364.9,492.7 L366.6,494.0 L368.2,494.3 L369.9,494.2 L371.6,495.9 L373.2,495.3 L374.7,495.9 L376.0,496.5 L377.8,494.9 L379.3,493.9 L380.8,495.6 L382.3,494.2 L383.6,495.2 L384.9,493.2 L385.7,491.9 L386.4,489.6 L386.7,487.4 L387.1,487.0 L387.4,485.2 L387.7,483.8 L388.0,482.5 L388.7,480.6 L389.4,478.3 L390.1,476.0 L390.7,472.9 L391.4,471.6 L392.3,470.2 L393.1,472.2 L393.6,474.0 L394.1,475.4 L394.7,477.7 L395.3,480.0 L395.6,481.6 L396.0,482.5 L396.3,483.9 L396.6,485.4 L397.0,487.6 L397.7,489.4 L398.7,489.9 L399.7,488.8 L400.7,487.3 L402.1,487.6 L403.0,489.1 L403.7,490.4 L404.4,491.4 L405.0,492.8 L405.7,495.0 L406.4,496.2 L407.0,497.2 L408.5,497.3 L409.3,495.9 L410.1,493.8 L410.9,491.1 L411.7,489.2 L412.5,487.6 L413.1,485.8 L413.8,484.4 L414.4,483.2 L415.4,481.9 L416.8,482.2 L418.1,481.6 L419.1,483.3 L420.1,485.0 L420.7,486.3 L421.4,487.7 L422.5,488.7 L423.7,487.5 L424.9,486.1 L426.1,485.5 L427.2,486.7 L427.8,488.3 L428.5,489.1 L429.2,490.1 L430.2,491.6 L431.2,493.2 L432.1,494.3 L433.4,494.9 L434.4,493.0 L435.0,491.5 L436.1,490.8 L437.6,489.5 L439.3,490.3 L441.0,491.2 L442.5,491.6 L444.1,493.1 L445.7,494.7 L447.3,496.2 L448.7,496.3 L450.0,494.4 L451.3,493.7 L452.5,491.5 L453.8,489.9 L455.2,488.8 L456.7,487.9 L458.2,486.5 L459.7,486.1 L461.2,485.7 L462.7,486.6 L464.2,487.9 L465.6,489.2 L467.1,489.5 L468.7,490.4 L470.6,492.1 L471.6,492.8 L472.7,494.7 L473.9,495.1 L475.1,495.5 L476.2,496.9 L477.4,497.5 L479.5,497.5 L481.2,497.5 L482.6,495.7 L483.2,494.5 L483.8,493.2 L484.4,491.6 L484.9,490.5 L486.2,488.5 L487.7,488.2 L489.3,490.4 L490.2,491.0 L491.1,492.2 L492.0,492.7 L492.8,494.3 L493.7,495.8 L495.5,496.5 L497.2,498.1 L498.9,497.8 L500.6,498.2 L502.3,498.0 L504.2,498.2 L506.3,498.7 L508.5,498.1 L510.7,498.9 L512.9,498.4 L515.0,498.9 L516.9,500.4 L518.6,501.0 L520.3,502.7 L522.0,504.6 L523.6,506.1 L525.2,506.5 L526.8,508.9 L528.4,511.0 L529.8,511.9 L531.2,512.1 L532.9,511.7 L534.5,510.6 L535.5,509.3 L536.6,508.8 L537.8,508.1 L539.2,507.3 L540.5,507.0 L541.9,505.9 L543.7,505.2 L545.4,507.1 L546.5,507.3 L548.0,507.9 L549.0,507.1 L550.0,505.0 L550.5,503.5 L551.0,502.4 L551.4,501.9 L551.9,499.6 L552.5,497.7 L552.8,497.0" fill="none" stroke="#0072BD" stroke-width="3.5" stroke-linejoin="round" stroke-linecap="round" clip-path="url(#clip1)"/>
<path d="M40.0,491.0 L42.4,490.7 L44.1,491.3 L45.9,491.2 L47.9,491.3 L49.9,491.8 L52.0,491.6 L54.1,491.6 L56.1,492.4 L58.0,491.8 L59.8,491.6 L61.7,491.7 L63.5,492.0 L65.4,492.4 L67.2,492.6 L69.1,492.7 L70.9,493.0 L72.6,493.0 L74.3,492.8 L76.0,493.0 L77.6,492.8 L79.2,492.5 L80.8,493.0 L82.3,492.8 L83.8,492.8 L85.3,493.5 L86.7,493.1 L88.0,492.7 L90.5,492.6 L92.6,493.0 L94.3,491.7 L95.9,491.4 L97.6,490.6 L99.5,489.7 L101.8,488.5 L103.1,487.5 L104.4,486.8 L105.7,486.1 L107.0,485.3 L108.3,484.9 L109.6,484.3 L110.9,482.8 L112.1,482.5 L113.3,481.3 L114.4,480.7 L115.5,480.1 L116.6,479.5 L118.8,477.9 L120.9,475.8 L122.9,475.5 L124.8,473.5 L126.7,471.9 L128.5,470.7 L130.2,468.6 L131.9,466.6 L132.8,466.2 L133.6,465.1 L134.4,463.6 L135.2,462.9 L136.1,461.6 L136.9,460.0 L137.7,459.7 L138.5,458.2 L140.0,455.9 L141.5,454.6 L142.9,452.8 L144.2,451.5 L145.7,449.8 L147.2,450.2 L148.9,450.8 L150.8,452.2 L152.6,454.0 L153.6,455.1 L155.4,456.7 L157.0,457.7 L158.4,458.4 L159.7,459.8 L161.0,460.5 L162.5,461.2 L164.4,462.3 L166.5,463.8 L167.7,463.6 L168.9,465.2 L170.1,465.1 L171.2,466.6 L173.3,467.9 L175.0,468.7 L176.4,468.1 L178.1,467.9 L179.5,467.2 L180.8,466.2 L182.0,466.5 L183.6,466.2 L184.9,466.8 L186.4,467.3 L188.0,468.6 L189.5,469.3 L191.3,469.6 L192.5,467.7 L193.2,467.2 L193.8,464.6 L194.4,463.4 L195.3,462.1 L196.1,460.6 L197.1,460.4 L198.3,460.6 L199.4,460.9 L200.7,460.6 L201.8,461.0 L202.6,461.2 L203.5,463.1 L204.3,464.3 L205.1,466.5 L205.9,467.4 L206.7,468.2 L207.9,468.2 L209.2,467.9 L210.5,467.2 L211.4,469.1 L212.3,469.3 L213.3,471.2 L214.5,472.4 L215.9,473.5 L217.3,474.8 L218.8,476.0 L220.4,476.2 L222.0,476.6 L223.8,478.2 L225.0,478.7 L226.3,478.6 L227.7,479.5 L229.2,479.2 L230.8,480.8 L232.5,480.6 L234.3,481.4 L236.3,482.7 L238.7,482.2 L240.0,482.8 L241.5,482.7 L243.1,482.7 L244.8,483.1 L246.6,483.8 L248.5,483.5 L250.4,484.0 L252.3,484.6 L254.3,484.5 L256.2,484.4 L258.0,485.5 L259.8,485.3 L261.7,486.0 L263.6,485.5 L265.5,486.6 L267.4,486.0 L269.3,486.1 L271.1,486.7 L272.9,486.9 L274.5,487.3 L276.0,487.0 L277.4,487.3 L278.7,487.4 L281.0,486.2 L283.1,485.3 L285.0,485.0 L286.8,485.3 L288.4,485.7 L289.8,486.3 L291.2,487.2 L292.5,488.3 L294.0,488.9 L295.7,488.0 L297.5,487.9 L299.4,486.5 L301.3,485.3 L303.1,483.9 L305.0,483.3 L306.9,481.6 L308.8,479.8 L310.6,479.2 L312.1,477.7 L313.4,477.0 L314.4,475.6 L315.4,474.4 L316.7,474.1 L317.9,475.3 L318.7,477.3 L319.4,480.1 L320.2,482.7 L321.1,484.1 L322.1,485.2 L323.6,486.1 L325.3,486.9 L327.2,486.3 L328.7,485.5 L330.2,483.9 L331.8,483.0 L333.1,480.5 L334.2,480.1 L335.1,479.2 L336.4,478.4 L338.0,478.4 L339.0,479.4 L340.0,480.6 L341.4,481.7 L342.8,480.9 L343.7,479.1 L345.1,479.7 L346.2,481.7 L347.0,482.8 L347.8,483.9 L348.7,485.3 L349.6,486.2 L350.6,487.9 L351.6,488.5 L352.7,489.3 L354.0,489.8 L355.4,490.7 L357.0,490.9 L358.7,491.3 L360.4,491.9 L362.1,492.0 L363.7,492.4 L365.3,492.3 L366.9,492.6 L368.5,492.1 L370.1,492.2 L371.8,492.2 L373.5,492.0 L375.1,492.7 L376.7,492.1 L378.1,491.6 L379.8,492.1 L381.3,491.2 L382.4,489.8 L383.4,489.0 L384.0,487.6 L384.4,486.1 L384.8,483.4 L385.0,482.0 L385.2,479.9 L385.5,477.8 L385.7,475.5 L385.9,472.9 L386.1,470.4 L386.4,467.1 L386.6,464.3 L386.9,460.8 L387.1,457.2 L387.4,453.6 L387.7,449.7 L388.0,445.4 L388.3,440.3 L388.7,435.7 L389.0,430.4 L389.4,425.4 L389.7,419.9 L390.1,415.1 L390.4,411.1 L390.7,406.8 L391.0,403.1 L391.3,399.7 L391.6,395.6 L391.9,392.7 L392.1,389.8 L392.4,386.7 L392.7,383.8 L392.9,381.5 L393.2,379.2 L393.4,377.6 L393.6,376.2 L394.1,374.0 L394.8,373.2 L396.2,373.8 L396.7,375.3 L397.2,377.4 L397.4,378.5 L397.6,380.9 L397.9,383.2 L398.2,385.6 L398.4,388.8 L398.7,391.7 L399.0,395.2 L399.3,398.5 L399.6,401.3 L399.8,404.2 L400.1,406.6 L400.4,408.9 L400.6,411.1 L400.9,413.2 L401.1,415.6 L401.4,417.3 L401.7,418.9 L401.9,420.9 L402.2,422.0 L402.7,424.4 L403.2,425.2 L404.3,425.8 L405.1,423.6 L405.7,421.5 L405.9,420.3 L406.2,418.4 L406.5,416.6 L406.8,414.9 L407.0,412.7 L407.3,410.7 L407.6,408.5 L407.8,406.3 L408.1,404.1 L408.4,402.0 L408.6,399.3 L408.9,396.9 L409.1,394.1 L409.4,390.8 L409.7,388.1 L409.9,386.3 L410.2,383.6 L410.4,381.7 L410.7,380.1 L411.2,378.0 L411.8,377.2 L413.1,376.4 L414.2,377.8 L414.8,378.9 L415.3,380.4 L415.9,382.6 L416.1,384.1 L416.3,385.6 L416.5,387.3 L416.8,388.7 L417.0,390.7 L417.1,393.4 L417.3,395.2 L417.5,397.6 L417.7,399.6 L417.9,401.7 L418.1,404.5 L418.3,406.2 L418.5,408.9 L418.7,412.0 L418.8,414.7 L419.0,417.2 L419.2,420.3 L419.4,423.0 L419.6,424.7 L419.8,426.8 L420.1,428.4 L421.0,429.4 L421.6,427.3 L422.3,426.1 L423.4,425.5 L424.2,426.8 L425.0,429.2 L425.5,430.7 L425.9,432.2 L426.7,434.0 L427.9,434.7 L428.6,432.8 L428.9,431.4 L429.2,430.0 L429.6,428.0 L429.9,426.5 L430.2,425.3 L430.5,424.0 L431.1,422.2 L431.7,420.5 L432.5,418.9 L433.8,419.0 L434.3,420.9 L434.8,423.1 L435.1,424.5 L435.3,425.8 L435.6,427.3 L436.1,429.7 L436.5,431.8 L436.9,434.1 L437.3,436.7 L437.8,438.6 L439.0,439.7 L440.1,438.8 L441.4,437.4 L442.8,435.4 L444.1,434.3 L445.8,433.8 L447.4,434.1 L449.0,434.7 L450.6,435.0 L451.8,433.8 L452.9,433.1 L454.0,432.0 L455.5,431.5 L456.6,432.3 L457.5,433.8 L458.1,435.3 L458.8,437.4 L459.6,439.7 L460.0,440.9 L460.4,442.6 L460.9,444.3 L461.3,445.6 L461.8,447.5 L462.2,448.4 L463.1,450.1 L464.4,449.5 L465.3,448.2 L466.2,446.7 L467.0,445.7 L468.1,446.4 L468.7,447.3 L469.4,448.8 L470.3,449.9 L471.5,449.1 L472.3,448.0 L473.2,446.2 L474.1,444.3 L475.0,443.5 L476.3,442.7 L477.6,441.9 L478.9,441.9 L480.1,443.2 L480.9,444.4 L481.7,446.3 L482.6,448.0 L483.6,450.0 L484.7,452.1 L485.4,453.5 L486.0,454.3 L486.6,455.3 L487.3,457.3 L488.0,458.2 L489.4,460.0 L490.8,461.5 L492.4,462.1 L494.0,462.7 L495.6,463.1 L497.1,462.9 L498.8,462.8 L500.1,461.9 L501.2,461.0 L502.9,461.1 L504.1,462.4 L505.5,463.8 L506.9,464.6 L508.5,464.7 L510.1,465.3 L511.8,464.3 L512.9,463.6 L514.0,462.7 L515.0,461.3 L516.1,460.0 L517.2,458.3 L518.3,458.1 L520.0,457.1 L521.6,456.3 L522.6,455.5 L523.5,454.2 L524.3,451.9 L525.2,449.6 L526.0,447.7 L526.9,445.7 L527.9,443.9 L529.0,441.5 L530.2,439.2 L531.3,437.0 L532.3,434.8 L533.2,432.8 L534.1,429.9 L534.9,427.8 L535.8,425.7 L536.6,424.3 L537.5,422.9 L538.7,421.6 L540.1,420.9 L541.0,420.1 L542.0,418.5 L543.1,416.3 L544.3,414.7 L545.4,413.1 L546.4,410.7 L547.4,409.1 L548.3,407.3 L549.2,405.7 L550.0,403.7 L550.7,402.4 L551.3,401.2 L552.0,399.8 L552.7,398.1 L552.8,398.1" fill="none" stroke="#D95319" stroke-width="3.5" stroke-linejoin="round" stroke-linecap="round" clip-path="url(#clip1)"/>
<path d="M40.0,518.9 L42.4,519.0 L44.0,519.5 L45.7,518.9 L47.6,518.7 L49.7,519.3 L51.8,519.5 L53.9,519.5 L56.0,519.5 L58.0,519.3 L60.1,519.1 L62.2,518.9 L64.5,518.9 L66.8,518.6 L69.1,518.8 L71.4,518.5 L73.7,517.8 L75.8,518.2 L77.8,517.9 L79.6,518.2 L81.2,518.3 L82.7,518.0 L84.1,517.3 L86.6,518.1 L88.9,517.7 L91.1,519.1 L93.4,519.1 L95.6,520.2 L97.7,522.0 L99.8,522.2 L102.0,524.1 L103.1,524.4 L104.3,525.2 L105.5,525.9 L106.8,527.1 L108.1,527.5 L109.4,528.5 L110.7,529.3 L112.0,529.3 L113.3,531.0 L114.5,531.2 L115.7,531.4 L116.9,532.3 L119.2,533.9 L121.4,534.9 L123.6,535.4 L125.6,536.8 L127.4,538.1 L129.0,539.6 L130.4,540.7 L131.7,542.5 L133.0,543.5 L134.4,545.1 L135.6,547.1 L136.8,548.8 L138.1,550.2 L139.3,552.0 L140.7,553.5 L142.0,555.5 L143.4,557.5 L144.9,558.9 L146.4,560.0 L148.0,559.6 L149.8,558.5 L151.7,556.2 L152.6,556.1 L153.6,555.1 L155.4,553.5 L157.0,551.5 L158.4,551.0 L159.7,550.1 L161.0,548.9 L162.5,548.9 L164.4,548.0 L166.5,546.0 L167.7,545.9 L168.9,545.7 L170.1,544.2 L172.3,543.8 L174.2,543.2 L175.7,543.0 L177.5,542.1 L179.0,542.5 L180.5,542.9 L181.9,543.0 L183.1,541.9 L184.5,541.7 L186.1,540.9 L187.3,541.0 L189.0,539.8 L190.3,539.9 L191.6,540.2 L192.6,541.4 L193.7,542.8 L194.5,544.2 L195.2,545.9 L195.9,547.0 L196.7,547.7 L197.5,549.1 L198.7,550.1 L200.1,549.5 L201.2,548.4 L202.0,547.4 L202.8,547.0 L203.7,544.7 L204.8,543.6 L205.9,542.4 L207.0,541.5 L208.4,542.4 L209.5,543.1 L211.0,542.7 L212.0,540.5 L212.7,539.9 L213.4,538.3 L214.2,537.0 L215.5,535.2 L216.8,535.2 L218.2,534.2 L219.7,533.8 L221.3,533.0 L223.0,532.3 L224.7,532.1 L226.2,530.9 L227.9,530.4 L229.2,529.2 L230.8,529.1 L232.4,529.4 L234.2,528.9 L236.3,528.5 L238.7,528.2 L240.0,528.2 L241.5,528.1 L243.1,528.1 L244.8,527.7 L246.6,527.6 L248.5,527.3 L250.4,526.8 L252.3,526.9 L254.3,526.4 L256.2,525.9 L258.0,525.6 L259.8,525.3 L261.7,524.8 L263.6,524.3 L265.5,524.4 L267.4,523.8 L269.3,523.9 L271.1,523.2 L272.9,523.2 L274.5,523.1 L276.0,522.8 L277.4,523.0 L279.8,523.1 L282.0,523.8 L283.9,524.7 L285.8,524.9 L287.8,524.6 L289.7,523.6 L291.6,523.0 L293.4,522.5 L295.1,520.6 L296.7,521.5 L298.1,521.7 L299.5,522.7 L300.9,523.6 L302.3,523.9 L303.9,525.8 L305.8,526.3 L307.7,527.8 L309.6,529.4 L311.3,530.4 L312.8,531.7 L314.0,532.8 L315.1,534.0 L316.1,535.3 L317.5,535.2 L318.3,534.8 L319.0,532.3 L319.6,530.1 L320.3,526.9 L321.1,525.0 L322.1,524.0 L323.8,524.0 L325.5,523.6 L326.9,523.8 L328.3,522.5 L329.6,522.4 L330.8,523.8 L331.6,524.6 L332.4,526.2 L333.2,527.4 L334.0,528.3 L335.0,529.4 L336.0,531.0 L337.0,532.9 L338.3,531.4 L339.4,529.9 L340.4,528.5 L341.8,528.7 L342.8,529.6 L344.1,529.0 L345.2,527.9 L346.5,526.0 L347.4,526.1 L348.4,524.6 L349.4,523.0 L350.5,522.4 L351.6,521.4 L352.7,519.8 L354.2,519.0 L355.6,518.8 L357.3,517.9 L358.8,517.5 L360.5,517.6 L362.4,517.2 L364.4,517.2 L366.4,517.8 L368.4,517.3 L370.7,517.4 L373.0,517.7 L375.3,517.6 L377.3,517.4 L378.8,518.5 L380.5,518.2 L381.8,519.2 L382.8,519.7 L383.7,520.3 L384.2,522.4 L384.6,524.3 L384.8,525.8 L385.1,528.1 L385.3,530.0 L385.6,533.1 L385.9,535.7 L386.2,538.9 L386.6,542.1 L386.9,545.9 L387.2,549.5 L387.6,553.5 L387.9,557.7 L388.2,561.7 L388.6,566.5 L388.9,571.7 L389.3,576.9 L389.7,582.4 L390.0,588.2 L390.4,593.2 L390.8,598.1 L391.1,603.1 L391.5,607.5 L391.9,611.7 L392.2,615.2 L392.6,619.0 L392.9,622.9 L393.2,626.2 L393.6,629.3 L393.9,631.8 L394.3,634.0 L394.6,635.3 L395.7,635.3 L396.1,633.6 L396.4,631.6 L396.8,628.9 L397.1,625.8 L397.5,623.2 L397.8,620.2 L398.2,617.5 L398.6,614.8 L399.0,611.9 L399.4,608.8 L399.9,605.4 L400.3,602.2 L400.8,598.8 L401.2,595.5 L401.6,592.3 L402.1,590.1 L402.5,587.5 L402.9,586.4 L403.7,584.4 L404.7,584.3 L405.4,585.1 L406.1,587.6 L406.5,588.5 L406.9,590.4 L407.2,592.3 L407.6,594.9 L408.0,597.7 L408.3,600.9 L408.7,603.9 L409.1,606.6 L409.4,609.5 L409.8,612.0 L410.1,614.4 L410.4,616.5 L410.7,619.2 L411.0,621.8 L411.3,623.9 L411.6,626.3 L411.8,628.0 L412.1,629.9 L412.4,631.4 L413.0,633.4 L414.4,632.2 L415.1,630.1 L415.4,628.3 L415.8,626.3 L416.1,623.9 L416.5,621.7 L416.9,618.5 L417.2,614.9 L417.6,610.2 L417.9,604.9 L418.3,600.3 L418.7,595.2 L419.0,589.8 L419.4,586.0 L419.7,582.8 L420.1,579.9 L420.5,578.6 L421.5,578.8 L422.2,580.6 L422.9,582.6 L424.1,582.8 L424.9,580.6 L425.8,578.9 L426.6,576.3 L427.5,575.6 L429.0,577.0 L429.5,578.8 L430.1,580.6 L430.6,582.6 L431.1,584.7 L431.7,586.6 L432.1,588.4 L432.6,589.6 L433.4,590.7 L434.4,589.7 L434.8,588.3 L435.3,586.1 L435.7,583.9 L436.0,582.3 L436.2,580.1 L436.4,578.4 L436.7,576.5 L436.9,574.5 L437.2,572.9 L437.5,571.2 L438.2,569.6 L439.6,569.3 L440.7,570.9 L441.9,572.2 L443.0,573.2 L444.7,574.2 L446.3,574.4 L447.9,574.5 L449.7,575.2 L450.9,576.2 L452.2,577.6 L453.5,578.7 L454.8,578.6 L456.2,577.3 L457.0,575.0 L457.8,573.3 L458.7,571.2 L459.5,569.2 L460.3,566.8 L461.1,564.5 L461.8,562.5 L462.5,561.1 L463.6,559.3 L464.7,559.7 L465.2,561.2 L465.7,562.3 L467.1,562.6 L468.2,561.2 L469.5,559.7 L471.4,560.1 L473.0,561.7 L473.9,562.6 L474.8,563.8 L475.7,565.3 L476.7,566.1 L478.5,567.5 L480.1,566.9 L481.8,565.0 L482.6,563.8 L483.4,562.2 L484.1,561.1 L484.9,559.5 L485.6,557.9 L486.3,556.3 L487.4,554.3 L488.3,552.7 L489.0,551.2 L489.8,549.5 L490.7,548.3 L491.8,547.5 L493.3,546.7 L495.0,546.1 L496.7,545.6 L498.2,546.0 L499.9,545.9 L501.1,546.7 L502.2,547.6 L503.6,547.4 L505.2,546.4 L506.4,545.5 L507.5,545.2 L509.0,544.2 L510.6,544.3 L512.3,544.6 L513.8,545.9 L514.9,547.6 L516.1,549.2 L517.2,550.8 L518.2,552.6 L519.6,553.3 L520.8,553.7 L522.1,555.0 L523.1,556.0 L524.1,558.0 L525.2,559.3 L526.3,562.0 L527.5,563.8 L528.5,566.1 L529.1,567.6 L529.6,568.6 L530.2,569.8 L530.7,571.5 L531.2,572.8 L531.8,573.9 L532.3,575.8 L532.9,576.7 L533.4,578.0 L534.5,580.4 L535.6,582.7 L536.6,585.1 L537.7,586.5 L538.8,588.9 L539.9,591.0 L541.0,592.6 L542.0,594.2 L543.1,595.7 L544.2,597.7 L545.3,599.3 L546.5,601.2 L547.6,602.8 L548.7,604.6 L549.6,606.2 L550.4,607.3 L551.2,609.1 L551.9,610.0 L552.6,611.0 L552.8,611.6" fill="none" stroke="#EDB120" stroke-width="3.5" stroke-linejoin="round" stroke-linecap="round" clip-path="url(#clip1)"/>
<path d="M40.0,499.1 L42.4,499.4 L44.1,499.3 L45.9,498.6 L47.9,498.4 L49.9,498.9 L52.0,499.1 L54.1,498.8 L56.1,498.3 L58.0,498.5 L59.8,498.9 L61.7,497.8 L63.6,498.3 L65.5,497.8 L67.5,497.5 L69.3,497.3 L71.1,496.6 L72.9,496.5 L74.5,496.9 L76.0,496.1 L77.4,496.0 L79.8,495.5 L81.8,495.8 L83.8,496.2 L85.7,496.5 L87.9,496.5 L90.1,496.9 L92.4,497.4 L94.6,497.9 L96.7,498.6 L98.7,498.8 L100.5,499.9 L102.3,500.4 L104.1,500.5 L105.8,500.9 L107.6,501.1 L109.4,500.3 L111.2,499.1 L113.0,498.2 L114.8,497.3 L116.6,496.5 L118.4,495.8 L120.2,494.4 L122.0,493.9 L123.8,493.1 L125.6,491.9 L127.5,491.2 L129.4,489.4 L131.2,488.2 L132.9,486.8 L134.4,485.0 L135.8,483.3 L137.0,481.4 L138.1,479.2 L139.3,476.9 L140.7,474.7 L141.4,473.3 L142.0,471.4 L142.7,470.3 L143.4,468.4 L144.1,467.2 L144.9,465.7 L146.4,464.5 L148.0,464.6 L149.8,466.7 L150.8,468.1 L151.7,470.0 L152.6,472.2 L153.6,473.0 L154.5,475.4 L155.4,476.7 L156.2,477.7 L157.7,479.0 L159.0,481.0 L160.3,481.5 L161.8,482.5 L163.4,483.1 L165.4,484.2 L167.7,486.0 L168.9,486.6 L170.1,486.9 L172.3,487.9 L174.2,488.8 L175.7,488.5 L177.0,488.1 L178.6,487.5 L180.0,487.2 L181.4,486.7 L183.1,486.4 L184.9,487.4 L186.4,487.9 L188.0,488.7 L189.5,490.2 L191.3,489.3 L192.5,488.2 L193.2,486.9 L193.8,485.4 L194.4,484.3 L195.3,482.8 L196.1,481.2 L196.9,479.7 L198.1,479.9 L199.2,481.4 L200.5,480.9 L201.8,480.7 L202.9,482.2 L203.8,483.1 L204.6,484.2 L205.4,485.7 L206.2,487.6 L207.3,487.7 L208.6,486.6 L209.9,486.4 L211.1,487.1 L212.0,488.9 L212.9,490.5 L214.1,491.1 L215.4,492.3 L216.8,492.9 L218.3,494.3 L219.8,494.3 L221.4,495.0 L223.2,496.2 L225.0,495.8 L226.3,496.4 L227.7,496.7 L229.2,497.3 L230.9,497.7 L232.8,498.5 L234.9,498.7 L237.0,499.2 L239.0,498.9 L240.9,499.4 L242.8,498.5 L244.6,498.7 L246.3,497.7 L248.1,497.4 L249.9,496.4 L251.4,496.0 L252.9,495.4 L254.6,495.0 L256.7,494.3 L259.5,493.8 L261.2,493.6 L263.0,493.4 L265.0,493.2 L267.0,493.0 L269.0,492.8 L271.0,493.7 L272.8,492.9 L274.5,492.8 L276.0,493.5 L278.4,493.6 L280.3,494.1 L282.0,495.2 L283.5,496.0 L285.0,495.7 L286.6,496.6 L288.0,496.6 L289.5,496.9 L290.9,496.3 L292.3,496.4 L293.7,495.3 L295.1,492.9 L296.5,492.4 L297.9,490.7 L299.5,488.2 L301.2,486.9 L303.0,484.8 L303.9,483.9 L304.8,482.6 L305.7,482.0 L306.7,481.0 L307.6,479.7 L308.5,478.7 L309.4,477.0 L310.4,476.4 L311.4,474.4 L312.4,473.2 L313.3,471.6 L314.3,471.2 L315.2,469.3 L316.8,468.4 L318.1,468.4 L319.0,470.7 L319.3,472.6 L319.6,474.2 L319.9,476.8 L320.2,477.9 L320.5,480.2 L320.8,480.8 L321.5,482.9 L322.1,484.5 L323.1,485.0 L324.7,486.5 L326.2,486.0 L328.0,485.3 L329.6,484.8 L330.6,483.1 L331.4,481.6 L332.2,479.4 L332.9,477.8 L333.6,476.7 L334.4,474.9 L335.0,474.4 L335.7,473.3 L336.6,471.9 L338.0,471.2 L339.1,472.8 L339.8,473.8 L340.7,475.6 L341.7,476.5 L342.9,475.8 L343.7,474.6 L344.5,473.2 L345.7,473.3 L346.6,474.6 L347.3,476.3 L347.9,478.6 L348.7,480.3 L349.5,481.9 L350.4,483.6 L351.3,485.7 L352.3,487.4 L353.4,488.6 L354.7,490.7 L356.1,491.8 L357.6,492.6 L359.2,493.7 L360.7,494.6 L362.3,495.4 L363.9,496.6 L365.6,497.4 L367.2,498.5 L368.7,499.6 L370.1,500.2 L371.5,500.5 L372.9,501.5 L374.2,501.8 L376.0,501.9 L377.8,502.2 L379.4,500.9 L380.8,500.5 L382.0,498.7 L383.0,498.0 L383.5,496.5 L384.0,495.2 L384.4,492.8 L384.5,491.2 L384.7,490.0 L384.8,488.6 L384.9,487.0 L385.0,485.4 L385.1,483.4 L385.2,482.2 L385.4,480.0 L385.6,478.4 L385.8,476.3 L386.0,474.8 L386.2,472.7 L386.4,471.1 L386.6,468.8 L386.8,467.7 L387.0,465.7 L387.2,464.0 L387.4,462.2 L387.6,460.4 L387.8,458.7 L388.0,457.0 L388.2,454.9 L388.4,453.4 L388.7,452.0 L388.9,450.7 L389.0,448.9 L389.2,447.9 L389.6,445.6 L389.9,444.3 L390.4,442.4 L390.7,440.0 L390.9,438.5 L391.2,437.1 L391.4,434.9 L391.7,432.4 L392.0,430.2 L392.3,427.7 L392.6,425.6 L392.9,423.3 L393.2,421.7 L393.4,420.5 L393.8,418.5 L394.2,417.1 L395.2,416.0 L396.1,417.5 L396.7,418.6 L397.2,420.5 L397.7,422.9 L398.0,424.0 L398.3,425.8 L398.5,427.3 L398.8,430.1 L399.1,432.2 L399.3,434.4 L399.6,436.5 L399.9,438.7 L400.2,440.8 L400.4,442.4 L400.7,444.1 L401.2,446.3 L401.8,448.3 L402.6,450.1 L403.4,451.2 L404.2,452.0 L405.3,452.9 L406.1,451.2 L406.4,449.3 L406.6,447.0 L406.9,444.1 L407.1,440.8 L407.4,437.9 L407.7,434.2 L407.9,430.9 L408.2,427.5 L408.4,425.0 L408.7,423.1 L409.0,421.2 L409.2,419.7 L409.5,418.1 L410.0,416.1 L410.6,414.4 L411.4,413.5 L412.5,414.6 L413.0,416.1 L413.6,417.7 L414.1,420.2 L414.4,421.6 L414.6,423.3 L414.9,425.2 L415.2,427.4 L415.4,429.4 L415.7,431.5 L415.9,433.8 L416.2,435.5 L416.5,438.1 L416.8,440.6 L417.1,442.2 L417.4,444.7 L417.7,447.5 L418.1,450.3 L418.4,452.6 L418.8,454.9 L419.1,457.6 L419.4,458.7 L419.8,460.5 L420.4,461.8 L421.4,459.4 L421.7,458.9 L422.0,457.7 L422.4,455.7 L423.0,453.9 L424.2,453.9 L425.0,455.3 L425.9,456.6 L426.7,458.0 L427.9,458.1 L428.6,456.8 L429.2,455.2 L429.9,453.5 L430.5,451.6 L431.1,450.4 L431.7,449.1 L432.5,447.6 L433.5,447.2 L434.3,448.4 L434.8,450.1 L435.3,452.0 L435.8,454.2 L436.3,455.6 L436.7,458.0 L437.0,460.6 L437.4,462.0 L438.5,463.4 L439.7,461.8 L440.4,460.7 L441.1,459.5 L441.9,457.7 L442.7,455.9 L443.5,455.0 L444.3,453.6 L445.8,452.2 L447.2,452.4 L448.6,452.7 L449.9,453.3 L451.2,454.8 L452.3,455.0 L453.7,455.1 L455.3,456.0 L456.6,456.3 L457.6,457.8 L458.2,459.5 L458.7,460.8 L459.3,462.3 L459.9,463.5 L460.4,464.7 L461.5,466.9 L463.0,467.4 L464.3,465.9 L465.2,464.9 L466.4,464.0 L467.4,465.7 L467.9,467.1 L468.5,468.5 L469.6,469.4 L471.1,468.0 L472.2,466.2 L473.4,463.9 L474.5,461.9 L475.9,461.7 L477.2,461.6 L478.5,462.6 L479.7,463.2 L480.9,464.3 L482.1,465.5 L483.1,466.5 L484.2,467.8 L485.4,470.0 L486.6,472.3 L487.3,473.1 L488.7,475.0 L490.1,477.1 L491.6,478.4 L493.2,478.5 L494.8,478.9 L496.4,478.9 L497.7,478.9 L499.2,479.0 L500.4,477.4 L501.6,477.1 L502.9,477.1 L504.1,478.2 L505.5,479.2 L506.9,479.3 L508.5,479.1 L510.1,479.1 L511.8,478.0 L512.9,476.9 L514.0,476.3 L515.0,474.7 L516.1,473.6 L517.2,473.2 L518.8,472.4 L520.4,472.3 L522.1,472.3 L523.1,471.0 L524.2,469.8 L525.2,468.6 L526.3,467.4 L527.4,465.9 L528.6,464.2 L529.9,463.2 L531.2,461.2 L532.5,459.3 L533.8,457.3 L535.2,455.5 L536.5,453.6 L537.8,451.3 L539.1,449.9 L540.4,447.9 L541.6,446.3 L542.7,445.1 L543.8,444.0 L545.3,443.5 L546.4,442.3 L547.6,441.5 L548.8,440.1 L550.0,438.6 L551.1,437.8 L551.8,437.0" fill="none" stroke="#7E2F8E" stroke-width="3.5" stroke-linejoin="round" stroke-linecap="round" clip-path="url(#clip1)"/>
<path d="M40.0,509.9 L42.4,510.1 L44.1,510.1 L45.9,510.1 L47.9,510.1 L49.9,510.4 L52.0,510.4 L54.1,510.9 L56.1,510.4 L58.0,511.6 L59.8,510.0 L61.7,511.1 L63.5,511.6 L65.4,511.4 L67.2,511.4 L69.1,511.8 L70.9,512.3 L72.6,512.6 L74.3,511.8 L76.0,512.5 L77.6,512.3 L79.2,512.8 L80.8,512.4 L82.3,512.6 L83.8,512.8 L85.3,512.4 L86.7,512.5 L88.0,512.1 L90.5,512.0 L92.7,511.1 L94.6,510.8 L96.3,510.3 L97.9,509.6 L99.5,510.0 L101.0,508.2 L102.4,507.8 L103.8,508.2 L105.2,508.2 L106.7,508.1 L108.4,508.8 L110.1,509.7 L111.9,509.8 L113.8,510.4 L115.7,511.6 L117.8,512.9 L120.1,513.6 L122.4,514.3 L124.5,515.5 L126.5,516.7 L128.2,517.3 L129.7,519.3 L131.1,520.3 L132.4,522.0 L133.7,523.6 L135.0,525.6 L136.2,527.9 L137.5,529.7 L138.7,531.9 L140.0,534.3 L140.7,535.2 L141.4,536.2 L142.0,538.0 L142.7,539.0 L143.4,540.4 L144.1,541.8 L145.6,544.0 L147.2,543.8 L148.9,542.7 L149.8,541.6 L150.8,539.8 L151.7,538.5 L152.6,537.1 L153.6,534.4 L154.5,533.4 L155.4,531.8 L156.2,531.6 L157.7,529.7 L159.0,528.8 L160.3,528.0 L161.8,527.0 L163.4,526.5 L165.4,525.3 L166.5,524.5 L167.7,524.3 L168.9,523.2 L170.1,521.9 L171.2,521.4 L173.3,520.6 L175.0,519.7 L176.3,520.2 L178.0,521.0 L179.5,522.0 L181.0,522.1 L182.3,521.5 L183.6,521.5 L185.0,520.4 L186.7,520.1 L188.5,518.9 L189.9,518.7 L191.4,519.2 L192.3,520.3 L193.3,522.1 L194.0,522.8 L194.8,525.2 L195.5,525.7 L196.5,527.9 L197.6,528.2 L198.9,528.2 L200.2,528.6 L201.6,527.3 L202.4,526.3 L203.2,524.8 L204.0,524.3 L205.1,521.7 L206.1,521.7 L207.7,520.8 L208.7,521.4 L210.2,522.1 L211.3,521.7 L212.0,520.1 L212.7,518.5 L213.4,517.5 L214.2,516.4 L215.5,515.5 L216.8,514.1 L218.2,514.3 L219.7,513.5 L221.3,512.4 L223.0,512.0 L224.7,511.8 L226.2,511.1 L227.9,511.0 L229.2,510.7 L230.8,510.2 L232.7,509.4 L234.8,508.7 L236.9,509.1 L239.0,508.5 L240.9,509.5 L242.8,510.4 L244.6,510.8 L246.3,512.0 L248.1,513.0 L249.9,513.5 L251.4,513.4 L252.9,513.8 L254.6,514.3 L256.7,514.7 L259.5,514.6 L261.2,515.0 L263.0,515.4 L265.0,514.9 L267.0,515.1 L269.0,514.8 L271.0,515.0 L272.8,515.3 L274.5,515.3 L276.0,514.8 L278.4,514.1 L280.3,514.4 L282.0,512.5 L283.5,512.3 L285.0,511.8 L286.6,511.8 L288.0,511.7 L289.5,511.3 L290.9,512.7 L292.3,512.7 L293.7,513.3 L295.1,514.2 L296.5,515.4 L297.9,518.0 L299.5,519.6 L301.2,521.1 L303.1,523.3 L304.1,523.9 L305.0,524.3 L305.9,525.1 L307.7,527.3 L309.3,529.1 L310.7,530.8 L312.0,532.2 L313.3,533.5 L314.3,534.6 L315.2,536.4 L315.8,538.1 L316.3,539.3 L316.7,540.5 L317.8,540.1 L318.5,537.4 L318.9,536.1 L319.2,533.9 L319.6,532.5 L320.0,530.4 L320.4,529.1 L320.7,528.3 L321.5,525.3 L322.1,524.5 L323.1,524.2 L324.7,523.2 L326.3,522.7 L328.0,523.1 L329.6,523.5 L330.9,524.5 L331.5,525.5 L332.1,527.6 L332.7,529.2 L333.3,531.2 L334.0,532.5 L334.7,533.6 L335.3,535.8 L336.0,536.5 L337.4,537.7 L338.4,535.5 L339.0,534.9 L340.0,533.6 L341.4,534.3 L342.4,536.0 L343.7,536.2 L344.9,534.5 L345.7,534.2 L346.7,532.0 L347.4,530.6 L348.2,529.1 L349.1,527.5 L350.0,525.6 L350.9,523.6 L351.9,522.0 L353.0,520.2 L354.1,518.8 L355.4,517.3 L356.9,516.5 L358.5,514.9 L360.2,514.4 L361.8,513.7 L363.4,512.3 L364.8,511.2 L366.2,510.8 L367.6,509.3 L368.9,508.8 L370.1,508.6 L371.8,507.5 L373.3,506.5 L374.9,506.1 L376.5,506.2 L378.2,507.4 L379.8,508.4 L381.3,509.0 L382.6,508.7 L383.8,509.3 L384.6,510.2 L385.4,512.6 L385.8,514.6 L386.1,516.4 L386.5,518.0 L386.9,520.2 L387.2,522.8 L387.6,524.9 L387.9,528.0 L388.3,530.6 L388.6,532.7 L388.9,535.7 L389.2,538.9 L389.5,542.0 L389.8,545.1 L390.1,548.3 L390.4,551.7 L390.7,555.1 L390.9,558.4 L391.2,561.4 L391.5,564.4 L391.8,567.5 L392.1,570.8 L392.3,574.1 L392.6,577.3 L392.9,580.8 L393.1,584.0 L393.4,586.5 L393.7,589.0 L394.0,590.6 L394.6,592.3 L395.7,590.5 L396.1,588.5 L396.4,587.4 L396.8,585.7 L397.2,583.4 L397.5,581.5 L397.9,580.0 L398.3,578.4 L398.6,576.5 L399.0,574.0 L399.3,572.0 L399.7,569.4 L400.1,567.4 L400.4,565.2 L400.8,563.3 L401.1,561.4 L401.5,560.1 L402.2,558.3 L403.0,556.6 L404.1,556.0 L405.4,557.0 L406.0,558.5 L406.5,560.6 L406.8,562.3 L407.0,563.7 L407.3,565.1 L407.6,567.3 L407.9,568.8 L408.2,571.4 L408.6,573.7 L408.9,577.1 L409.3,580.5 L409.6,584.6 L410.0,587.7 L410.4,590.4 L410.8,593.1 L411.1,594.9 L411.9,596.2 L412.6,594.4 L413.0,593.3 L413.3,591.3 L413.7,588.9 L414.1,586.9 L414.4,584.7 L414.8,582.3 L415.1,580.1 L415.4,578.3 L415.7,576.0 L416.0,573.8 L416.3,570.8 L416.6,568.4 L416.9,565.9 L417.2,563.3 L417.5,561.2 L417.7,558.8 L418.0,557.1 L418.2,555.4 L418.5,554.2 L418.7,552.6 L418.9,551.2 L419.2,549.2 L419.6,548.0 L420.6,548.1 L421.1,549.8 L421.4,552.2 L421.7,553.0 L422.0,554.5 L422.6,556.0 L423.8,555.9 L424.6,554.3 L425.5,552.2 L426.4,550.4 L427.8,551.0 L428.8,552.7 L429.3,554.3 L429.9,556.5 L430.4,557.7 L430.9,558.8 L431.4,560.5 L432.3,561.7 L433.4,560.4 L434.0,558.3 L434.3,556.6 L434.6,555.5 L435.2,552.9 L435.8,551.0 L436.3,549.4 L436.8,547.8 L437.3,546.5 L438.2,546.0 L439.8,545.9 L441.2,547.0 L442.2,548.3 L443.0,549.3 L443.9,551.4 L444.7,553.5 L445.5,555.0 L446.4,556.1 L447.9,556.4 L449.5,555.6 L450.6,554.6 L451.8,553.7 L453.4,552.7 L455.0,552.7 L456.6,551.8 L457.7,551.1 L458.8,549.4 L459.4,548.2 L459.9,546.5 L460.5,545.0 L461.0,544.4 L461.6,542.7 L462.6,540.7 L464.0,540.4 L464.9,541.3 L465.8,542.9 L466.6,544.2 L467.8,544.3 L468.7,542.7 L469.3,541.5 L470.3,539.6 L471.6,541.2 L472.7,542.4 L473.8,544.1 L475.0,546.0 L476.1,546.9 L477.7,546.9 L479.3,546.1 L480.4,545.2 L481.5,544.4 L482.6,543.2 L483.7,541.5 L484.7,540.1 L485.8,538.5 L486.9,536.9 L488.0,536.2 L489.0,534.5 L490.1,533.5 L491.1,533.2 L492.3,531.9 L493.6,530.9 L494.9,530.4 L496.3,529.8 L497.6,529.6 L499.3,529.5 L500.6,529.9 L501.7,530.9 L503.1,531.8 L504.9,531.5 L506.3,530.5 L507.7,529.7 L509.0,529.3 L510.8,530.1 L512.4,531.2 L513.4,531.8 L514.5,532.3 L516.1,533.2 L517.7,534.4 L519.3,535.1 L520.4,535.7 L521.5,536.3 L522.6,537.7 L523.6,538.9 L524.7,539.9 L525.8,541.7 L526.9,542.6 L528.0,544.4 L529.0,545.7 L530.1,547.2 L531.2,549.1 L532.3,550.4 L533.4,552.7 L534.4,554.2 L535.5,556.0 L536.6,557.7 L537.7,558.9 L538.8,559.8 L539.9,561.2 L541.0,561.8 L542.0,563.0 L542.9,563.9 L543.8,565.2 L544.7,566.5 L545.5,567.3 L546.4,568.2 L547.3,569.6 L548.2,570.6 L549.1,571.3 L550.3,572.4 L551.8,572.3 L552.9,572.1 L553.9,570.5" fill="none" stroke="#77AC30" stroke-width="3.5" stroke-linejoin="round" stroke-linecap="round" clip-path="url(#clip1)"/>
<line x1="245.5" y1="353.4" x2="245.5" y2="657.5" stroke="#383838" stroke-width="1.3"/>
<line x1="378.5" y1="353.4" x2="378.5" y2="657.5" stroke="#383838" stroke-width="1.3"/>
<rect x="40.0" y="353.4" width="511.79999999999995" height="304.1" fill="none" stroke="#5a5a5a" stroke-width="1.7"/>
<text x="35" y="661.85" text-anchor="end" font-size="17.5">-8</text>
<line x1="40.0" y1="619.49" x2="45.6" y2="619.49" stroke="#333" stroke-width="1.4"/>
<text x="35" y="629.55" text-anchor="end" font-size="17.5">-6</text>
<line x1="40.0" y1="581.48" x2="45.6" y2="581.48" stroke="#333" stroke-width="1.4"/>
<text x="35" y="588.30" text-anchor="end" font-size="17.5">-4</text>
<line x1="40.0" y1="543.46" x2="45.6" y2="543.46" stroke="#333" stroke-width="1.4"/>
<text x="35" y="550.70" text-anchor="end" font-size="17.5">-2</text>
<line x1="40.0" y1="505.45" x2="45.6" y2="505.45" stroke="#333" stroke-width="1.4"/>
<text x="35" y="513.20" text-anchor="end" font-size="17.5">0</text>
<line x1="40.0" y1="467.44" x2="45.6" y2="467.44" stroke="#333" stroke-width="1.4"/>
<text x="35" y="473.30" text-anchor="end" font-size="17.5">2</text>
<line x1="40.0" y1="429.42" x2="45.6" y2="429.42" stroke="#333" stroke-width="1.4"/>
<text x="35" y="434.60" text-anchor="end" font-size="17.5">4</text>
<line x1="40.0" y1="391.41" x2="45.6" y2="391.41" stroke="#333" stroke-width="1.4"/>
<text x="35" y="399.10" text-anchor="end" font-size="17.5">6</text>
<text x="35" y="360.40" text-anchor="end" font-size="17.5">8</text>
<text x="48.40" y="677.10" text-anchor="middle" font-size="17.5">4000</text>
<line x1="116.30" y1="657.5" x2="116.30" y2="651.9" stroke="#333" stroke-width="1.4"/>
<text x="118.10" y="677.10" text-anchor="middle" font-size="17.5">3500</text>
<line x1="191.50" y1="657.5" x2="191.50" y2="651.9" stroke="#333" stroke-width="1.4"/>
<text x="194.60" y="677.10" text-anchor="middle" font-size="17.5">3000</text>
<line x1="266.70" y1="657.5" x2="266.70" y2="651.9" stroke="#333" stroke-width="1.4"/>
<text x="268.80" y="677.10" text-anchor="middle" font-size="17.5">2500</text>
<line x1="341.90" y1="657.5" x2="341.90" y2="651.9" stroke="#333" stroke-width="1.4"/>
<text x="343.80" y="677.10" text-anchor="middle" font-size="17.5">2000</text>
<line x1="417.10" y1="657.5" x2="417.10" y2="651.9" stroke="#333" stroke-width="1.4"/>
<text x="420.00" y="677.10" text-anchor="middle" font-size="17.5">1500</text>
<line x1="492.30" y1="657.5" x2="492.30" y2="651.9" stroke="#333" stroke-width="1.4"/>
<text x="495.40" y="677.10" text-anchor="middle" font-size="17.5">1000</text>
<text x="236" y="694.30" font-size="17">Wavenumber (cm<tspan font-size="11" dy="-5.3">-1</tspan><tspan dy="5.3">)</tspan></text>
<text transform="translate(13.6,505.4) rotate(-90)" text-anchor="middle" font-size="17.2">ATR Transmission %</text>
<rect x="48.9" y="358.50" width="192.0" height="83.60" fill="#fff" stroke="#666" stroke-width="1.5"/>
<line x1="52" y1="368.90" x2="79" y2="368.90" stroke="#0072BD" stroke-width="3.4"/>
<text x="85.60" y="374.30" font-size="17.2">Difference spectrum</text>
<line x1="52" y1="387.00" x2="79" y2="387.00" stroke="#D95319" stroke-width="3.4"/>
<text x="85.60" y="390.30" font-size="17.2">+<tspan dx="-0.7"> SD newborn</tspan></text>
<line x1="52" y1="402.30" x2="79" y2="402.30" stroke="#EDB120" stroke-width="3.4"/>
<text x="85.60" y="406.30" font-size="17.2">-<tspan dx="0.9"> SD newborn</tspan></text>
<line x1="52" y1="418.30" x2="79" y2="418.30" stroke="#7E2F8E" stroke-width="3.4"/>
<text x="85.60" y="422.60" font-size="17.2">+<tspan dx="-0.7"> SD adult</tspan></text>
<line x1="52" y1="434.50" x2="79" y2="434.50" stroke="#77AC30" stroke-width="3.4"/>
<text x="85.60" y="438.50" font-size="17.2">-<tspan dx="0.9"> SD adult</tspan></text>
<text x="311.30" y="577.70" text-anchor="middle" font-size="17">Predominant</text>
<text x="311.30" y="597.50" text-anchor="middle" font-size="17">contribution</text>
<text x="311.30" y="617.30" text-anchor="middle" font-size="17">from ATR crystal</text>
<text x="61.30" y="645.50" font-size="23">b</text>
<clipPath id="clip2"><rect x="40.0" y="700.7" width="513.8" height="306.4"/></clipPath>
<path d="M40.0,858.5 L42.6,859.0 L44.4,859.3 L46.3,857.6 L48.4,857.5 L50.6,858.3 L52.7,859.3 L54.7,858.3 L56.5,857.2 L58.0,857.5 L60.4,858.6 L62.2,860.1 L63.8,860.2 L65.3,860.7 L67.0,861.1 L68.8,861.1 L70.5,859.9 L72.3,859.7 L74.1,859.2 L76.0,859.7 L78.0,858.4 L80.2,859.2 L82.4,857.8 L84.6,859.3 L86.8,858.6 L89.0,857.7 L91.2,857.6 L93.3,857.6 L95.5,856.1 L97.7,856.6 L99.9,856.5 L102.1,856.3 L104.3,856.0 L106.5,853.5 L108.5,854.3 L110.4,853.1 L112.2,853.8 L114.0,852.6 L115.7,852.2 L117.5,851.7 L119.3,850.1 L121.1,849.8 L122.9,848.3 L124.7,849.4 L126.5,846.5 L128.4,845.7 L130.3,843.1 L132.2,842.1 L134.0,841.2 L135.5,841.1 L136.6,839.8 L137.5,838.1 L138.2,836.1 L139.0,836.7 L140.0,833.3 L141.2,831.9 L142.6,831.2 L144.1,828.6 L145.6,828.4 L147.2,828.5 L148.9,828.4 L150.8,830.3 L151.7,830.9 L152.6,831.3 L153.6,830.4 L155.4,833.5 L157.0,835.5 L158.4,834.9 L159.7,836.2 L161.0,837.1 L162.5,838.4 L164.4,837.1 L166.5,838.5 L168.9,840.0 L171.2,841.1 L173.3,840.3 L175.0,842.8 L176.3,840.6 L177.9,841.2 L179.5,839.6 L181.1,839.9 L182.8,841.1 L184.4,840.8 L185.9,840.7 L187.3,840.4 L188.6,841.1 L190.3,840.1 L191.4,841.2 L192.1,837.3 L192.8,835.2 L193.5,837.2 L194.6,835.5 L195.8,832.8 L196.8,832.5 L197.9,830.5 L199.2,829.8 L199.6,829.3 L200.0,826.8 L200.1,824.7 L200.3,824.8 L200.5,822.7 L200.6,821.0 L201.0,818.1 L201.8,819.3 L202.2,820.5 L202.7,822.6 L203.2,825.0 L203.6,825.5 L204.2,827.7 L204.7,829.7 L205.3,830.8 L205.8,833.6 L206.6,832.1 L207.5,834.6 L208.5,834.4 L209.3,834.1 L209.9,834.3 L210.4,829.2 L211.0,828.6 L212.0,828.5 L212.7,829.4 L213.2,831.3 L213.6,830.7 L214.1,834.4 L214.4,834.3 L214.7,835.5 L215.0,838.1 L215.9,839.5 L217.1,839.6 L218.6,840.2 L220.5,841.3 L222.1,841.8 L223.9,842.1 L225.9,841.8 L228.0,841.1 L230.0,844.2 L232.0,843.7 L234.0,843.1 L236.0,843.2 L238.1,844.4 L240.0,845.2 L241.9,844.8 L243.7,848.5 L245.4,848.9 L247.2,849.4 L249.0,850.7 L250.7,851.2 L252.2,852.2 L253.8,851.8 L255.6,852.9 L258.0,853.4 L259.5,852.1 L261.2,852.1 L263.1,851.9 L265.1,852.6 L267.1,852.3 L269.1,852.9 L271.1,853.2 L272.9,853.5 L274.6,852.2 L276.0,853.9 L278.2,852.8 L279.8,852.9 L281.6,852.3 L283.2,850.7 L284.5,851.6 L285.4,849.0 L286.8,850.3 L288.1,849.9 L289.6,851.8 L290.8,851.9 L292.3,852.7 L294.1,854.2 L296.3,854.2 L298.7,856.5 L299.8,855.9 L302.1,857.3 L304.1,857.6 L306.1,859.4 L308.0,860.4 L309.8,860.4 L311.4,860.7 L312.8,862.6 L313.9,864.2 L314.9,865.0 L315.7,865.5 L317.1,866.1 L318.1,865.5 L319.0,861.9 L319.9,861.3 L320.9,860.9 L322.0,857.6 L323.2,857.8 L324.6,859.2 L326.0,858.6 L327.2,859.0 L328.7,858.4 L330.2,857.6 L331.4,861.4 L332.6,860.8 L333.5,861.7 L334.9,863.9 L336.1,863.6 L337.4,862.5 L338.6,861.0 L340.1,861.2 L341.5,860.8 L343.0,860.5 L344.0,861.6 L345.1,862.3 L346.2,862.0 L347.0,860.2 L347.9,859.3 L348.9,858.2 L350.0,856.4 L351.2,855.4 L352.5,856.0 L353.8,854.8 L355.2,852.8 L356.7,853.0 L358.2,853.2 L359.8,852.0 L361.4,852.8 L363.1,850.5 L364.7,850.1 L366.3,851.9 L368.0,851.3 L369.7,849.4 L371.3,850.4 L372.7,851.2 L374.0,849.4 L375.8,849.5 L377.3,849.8 L378.7,850.2 L380.0,849.5 L381.3,849.7 L382.8,847.8 L383.8,847.4 L384.7,845.8 L385.1,843.1 L385.4,842.0 L385.7,840.2 L385.9,836.8 L386.2,835.4 L386.4,832.9 L386.7,830.2 L386.9,827.9 L387.1,824.7 L387.4,822.1 L387.7,818.8 L387.9,815.5 L388.2,811.8 L388.4,809.1 L388.7,804.5 L389.0,800.4 L389.2,797.7 L389.5,794.0 L389.7,790.0 L390.0,786.8 L390.3,783.8 L390.5,781.6 L390.8,778.2 L391.1,775.4 L391.4,773.3 L391.7,770.5 L391.9,768.3 L392.2,767.0 L392.5,764.8 L392.7,763.4 L393.1,760.9 L393.5,759.9 L394.5,759.1 L395.2,760.9 L395.7,762.7 L396.3,764.4 L396.6,765.4 L396.8,767.4 L397.1,768.5 L397.4,770.2 L397.7,771.3 L397.9,773.5 L398.2,775.6 L398.5,778.1 L398.7,779.9 L399.0,781.4 L399.2,783.7 L399.5,784.8 L399.8,787.1 L400.1,788.0 L400.7,790.6 L401.4,791.8 L402.1,792.7 L403.1,793.5 L404.3,794.9 L405.1,793.5 L405.5,792.2 L405.9,789.7 L406.1,787.2 L406.2,786.3 L406.4,784.1 L406.6,782.4 L406.8,780.5 L407.0,777.8 L407.2,776.5 L407.4,775.0 L407.6,773.5 L407.9,772.1 L408.2,769.8 L408.4,768.3 L408.7,767.0 L409.0,764.7 L409.3,764.6 L409.8,761.4 L410.4,761.0 L411.5,760.4 L412.3,762.3 L412.8,763.4 L413.3,764.8 L413.8,766.5 L414.1,768.5 L414.4,770.0 L414.6,771.5 L414.9,772.4 L415.1,774.1 L415.4,775.7 L415.7,777.8 L415.9,779.3 L416.2,781.7 L416.4,784.2 L416.7,785.9 L417.0,788.6 L417.2,790.2 L417.5,791.9 L417.8,794.0 L418.1,795.2 L418.7,796.9 L419.4,798.2 L420.5,799.5 L421.9,799.9 L422.4,798.9 L423.0,797.3 L424.1,797.5 L424.7,798.5 L425.4,800.6 L426.1,801.8 L427.5,801.7 L428.1,799.6 L428.8,797.6 L429.5,796.6 L430.1,794.9 L431.0,793.3 L432.0,793.4 L433.3,794.2 L433.9,795.3 L434.4,797.0 L434.9,798.3 L435.5,800.3 L436.1,801.1 L436.8,802.3 L437.5,803.5 L438.5,804.4 L439.8,805.1 L440.9,804.2 L441.9,803.0 L443.0,800.9 L444.3,800.5 L445.8,799.8 L447.7,800.4 L449.1,800.0 L450.4,800.6 L451.7,801.7 L453.3,802.4 L454.8,801.9 L456.1,803.3 L457.2,803.5 L458.5,806.0 L459.2,807.3 L459.9,808.4 L460.6,810.4 L461.3,810.9 L462.0,812.1 L463.1,813.9 L464.3,814.0 L465.2,813.4 L466.1,811.8 L467.3,813.2 L467.9,814.0 L468.9,816.1 L470.4,815.4 L471.2,814.3 L472.0,812.2 L473.0,811.8 L474.4,810.5 L476.0,811.3 L477.7,812.0 L478.8,812.8 L480.2,814.2 L481.3,815.4 L482.1,816.1 L483.0,817.8 L484.2,819.2 L485.6,820.5 L487.1,823.0 L488.7,825.2 L490.4,826.4 L492.0,827.6 L493.7,828.6 L495.5,829.6 L497.3,829.5 L499.0,830.5 L500.8,830.2 L502.5,830.9 L504.2,831.1 L505.9,830.4 L507.6,830.8 L509.4,830.0 L511.1,828.1 L512.9,827.0 L514.6,825.4 L516.3,824.0 L518.1,823.6 L519.9,822.9 L521.6,823.1 L523.4,822.5 L525.0,822.1 L526.5,821.4 L527.9,818.6 L528.6,816.6 L529.2,815.4 L529.9,814.3 L530.5,812.3 L531.1,811.7 L531.7,809.9 L532.3,808.6 L532.9,807.3 L533.5,805.7 L534.1,804.2 L534.7,802.2 L535.3,801.4 L535.8,800.7 L536.3,799.6 L536.8,798.0 L537.7,795.1 L538.4,793.4 L538.9,791.6 L539.3,789.3 L539.7,788.4 L540.0,785.6 L540.3,783.8 L540.4,780.8 L540.6,779.1 L540.8,776.5 L541.3,776.8 L541.7,779.8 L541.8,780.3 L542.0,781.9 L542.5,784.4 L543.4,784.7 L544.3,782.4 L545.2,780.8 L545.6,779.0 L546.1,777.9 L546.6,775.1 L547.0,774.1 L547.4,772.0 L547.8,769.6 L548.2,766.9 L548.5,764.2 L548.9,760.7 L549.2,757.7 L549.6,754.5 L549.9,751.9 L550.2,749.6 L550.5,746.8 L550.7,745.9 L551.2,745.2 L551.5,747.0 L551.6,748.1 L551.7,750.3 L551.8,750.3" fill="none" stroke="#0072BD" stroke-width="3.5" stroke-linejoin="round" stroke-linecap="round" clip-path="url(#clip2)"/>
<path d="M40.0,843.7 L42.4,843.9 L44.1,843.8 L45.9,845.0 L47.9,844.1 L49.9,844.1 L52.0,844.3 L54.1,844.1 L56.1,844.2 L58.0,844.8 L59.8,844.7 L61.7,845.4 L63.5,845.4 L65.4,845.3 L67.2,845.8 L69.1,846.3 L70.9,846.3 L72.6,847.2 L74.3,847.4 L76.0,848.0 L77.6,847.6 L79.2,847.9 L80.8,848.2 L82.3,848.3 L83.8,847.8 L85.3,848.6 L86.7,847.9 L88.0,848.4 L90.5,847.6 L92.6,847.2 L94.3,846.3 L95.9,846.0 L97.6,845.9 L99.5,843.9 L101.8,843.2 L103.0,842.4 L104.3,841.0 L105.6,840.6 L106.9,839.8 L108.2,838.4 L109.5,837.4 L110.8,837.1 L112.1,836.0 L113.4,835.8 L114.7,834.4 L116.0,833.1 L117.3,832.6 L118.6,831.5 L119.9,831.3 L121.2,830.4 L122.4,829.3 L123.6,828.3 L124.7,828.1 L125.8,826.9 L127.7,825.8 L129.6,823.6 L131.3,822.2 L132.9,820.4 L134.4,818.4 L135.8,817.5 L137.0,814.9 L138.1,811.9 L139.3,810.2 L140.7,807.4 L142.0,806.1 L142.7,804.9 L144.1,802.4 L145.6,801.0 L147.2,800.9 L148.9,802.1 L149.8,803.0 L150.8,804.1 L151.7,805.8 L152.6,807.2 L153.6,809.1 L154.5,810.3 L155.4,811.6 L157.0,812.7 L158.4,814.2 L159.7,815.0 L161.0,815.6 L162.5,816.5 L164.4,817.5 L166.5,818.5 L167.7,820.0 L168.9,820.8 L170.1,821.1 L171.2,822.1 L173.3,822.7 L175.0,823.1 L176.3,823.4 L178.0,823.3 L179.5,822.2 L181.0,821.6 L182.3,822.1 L183.6,822.0 L185.0,822.5 L186.1,823.7 L187.3,824.0 L188.4,824.8 L189.9,825.2 L191.1,824.9 L191.8,823.3 L192.5,821.6 L193.2,820.2 L193.8,819.4 L194.5,818.4 L195.2,816.5 L195.8,815.6 L196.7,815.2 L198.0,815.0 L199.4,815.0 L200.5,814.4 L201.9,814.2 L203.0,815.8 L203.8,817.2 L204.6,818.3 L205.4,820.2 L206.2,822.1 L207.0,822.8 L208.3,822.4 L209.4,821.3 L210.6,823.0 L211.5,824.6 L212.5,825.4 L213.6,827.2 L214.7,828.1 L215.9,829.1 L217.4,830.0 L218.6,830.8 L219.9,831.7 L221.2,831.7 L222.5,833.0 L223.8,833.1 L225.1,833.3 L226.4,834.1 L227.7,834.7 L229.2,834.9 L230.9,835.4 L232.8,835.6 L234.9,835.9 L237.0,836.8 L239.0,836.6 L240.9,837.9 L242.8,838.5 L244.6,839.3 L246.3,840.3 L248.1,841.0 L249.9,841.6 L251.4,841.9 L252.9,842.0 L254.6,841.5 L256.7,841.6 L259.5,842.5 L261.1,842.3 L263.0,842.4 L264.9,842.6 L266.9,842.4 L268.9,843.3 L270.8,842.9 L272.7,842.9 L274.5,842.8 L276.0,843.5 L277.4,843.6 L278.7,844.0 L281.0,844.3 L283.1,844.2 L285.0,844.4 L286.8,845.4 L288.4,845.0 L289.8,845.3 L291.2,845.3 L292.5,845.1 L294.0,844.3 L295.7,842.3 L296.6,841.4 L297.5,840.0 L298.4,839.6 L299.4,838.1 L300.3,836.4 L301.3,836.0 L302.2,834.4 L303.1,832.9 L304.0,831.9 L305.0,830.6 L305.9,829.6 L306.9,828.4 L307.9,826.9 L308.8,825.9 L309.7,823.7 L310.6,823.1 L311.4,822.1 L312.1,820.9 L312.8,819.4 L313.4,817.2 L314.0,815.3 L314.5,813.9 L315.0,812.9 L315.4,810.7 L315.9,809.0 L316.7,806.9 L317.8,808.2 L318.5,810.5 L318.7,812.4 L319.0,814.1 L319.3,815.1 L319.6,817.6 L319.9,819.5 L320.2,820.4 L320.5,821.6 L320.8,822.9 L321.2,824.3 L321.5,826.8 L321.8,827.9 L322.1,828.6 L322.9,831.4 L323.8,832.0 L325.5,832.8 L326.8,832.4 L328.2,831.7 L329.5,830.6 L330.7,829.0 L331.3,827.2 L331.8,825.3 L332.4,823.6 L332.9,821.6 L333.5,819.9 L334.0,817.7 L334.4,816.5 L334.9,815.2 L335.7,813.8 L336.8,812.6 L337.7,814.0 L338.6,815.0 L339.3,815.8 L340.1,816.7 L341.1,818.4 L342.2,818.0 L342.7,816.4 L343.2,815.9 L344.3,815.2 L344.9,816.1 L345.6,818.2 L346.3,820.5 L347.0,822.6 L347.8,824.3 L348.5,826.4 L349.3,829.2 L350.1,830.5 L350.9,832.1 L351.9,833.4 L352.9,834.4 L353.9,836.2 L355.0,837.1 L356.1,838.3 L357.3,839.1 L358.6,840.4 L360.0,841.3 L361.3,841.6 L362.7,842.1 L364.1,843.2 L365.5,844.2 L366.8,844.6 L368.2,845.1 L369.5,845.0 L371.2,845.4 L372.8,845.6 L374.4,845.2 L375.9,844.7 L377.7,844.5 L379.4,844.0 L380.8,842.8 L381.8,841.4 L382.5,839.7 L383.0,838.7 L383.4,836.5 L383.6,835.1 L383.8,833.9 L384.0,831.6 L384.2,829.7 L384.4,827.9 L384.6,825.5 L384.8,823.2 L385.0,821.5 L385.2,819.9 L385.4,817.9 L385.6,816.5 L386.0,813.8 L386.4,812.4 L386.8,809.3 L387.0,807.9 L387.2,806.0 L387.4,804.0 L387.6,800.6 L387.9,796.8 L388.1,792.7 L388.4,788.6 L388.7,783.9 L388.9,779.5 L389.2,775.2 L389.5,771.2 L389.7,766.8 L390.0,763.8 L390.3,760.0 L390.5,757.7 L390.8,754.3 L391.1,751.6 L391.4,749.0 L391.7,746.8 L391.9,744.5 L392.2,742.5 L392.5,740.7 L392.7,739.3 L393.1,737.4 L393.7,736.0 L394.9,736.8 L395.7,737.9 L396.0,739.6 L396.5,742.0 L396.7,743.2 L396.9,745.5 L397.2,747.7 L397.5,750.4 L397.7,753.0 L398.0,756.5 L398.3,759.7 L398.6,762.9 L398.8,765.3 L399.1,768.0 L399.4,770.4 L399.7,772.3 L399.9,773.8 L400.2,775.6 L400.5,777.4 L400.8,778.7 L401.3,781.0 L401.8,783.0 L402.4,783.8 L403.1,785.4 L404.2,784.5 L404.7,782.8 L405.0,781.7 L405.2,780.2 L405.5,777.9 L405.8,775.5 L406.0,773.4 L406.3,770.7 L406.6,767.5 L406.9,765.3 L407.1,762.9 L407.4,760.7 L407.7,758.3 L407.9,756.4 L408.2,754.0 L408.5,751.9 L408.7,749.2 L409.0,747.1 L409.3,744.9 L409.6,743.5 L409.8,742.1 L410.4,740.3 L411.5,739.9 L412.3,740.9 L413.1,742.8 L413.8,743.9 L414.4,745.3 L414.9,747.3 L415.4,750.5 L415.7,751.8 L415.9,753.8 L416.2,756.4 L416.5,759.2 L416.8,761.7 L417.1,764.4 L417.3,766.8 L417.6,769.5 L417.9,772.3 L418.1,774.2 L418.3,776.2 L418.5,778.4 L418.7,781.0 L418.9,783.2 L419.1,784.9 L419.2,786.5 L419.4,788.7 L419.6,789.7 L420.1,791.6 L421.0,791.0 L421.6,788.9 L422.3,786.7 L423.0,785.5 L424.2,785.7 L425.1,787.1 L425.9,789.3 L426.8,791.4 L427.8,791.3 L428.4,789.6 L428.9,787.7 L429.4,785.1 L429.8,783.0 L430.4,781.7 L431.2,779.9 L432.3,779.1 L433.1,780.2 L433.6,781.7 L434.1,784.5 L434.4,785.3 L434.7,787.2 L435.2,789.2 L435.8,791.2 L436.2,793.0 L436.6,795.3 L437.1,796.6 L438.2,797.9 L439.9,796.4 L441.3,794.2 L442.7,792.7 L444.1,790.8 L445.3,790.0 L446.9,790.5 L448.5,791.8 L450.1,792.4 L451.8,792.3 L453.5,791.3 L455.0,791.3 L456.3,792.1 L457.2,793.8 L457.8,795.6 L458.4,796.8 L459.2,798.4 L460.0,801.1 L460.9,803.3 L461.9,805.7 L462.7,807.3 L463.8,807.6 L464.8,805.7 L465.4,804.6 L466.4,803.0 L467.3,804.7 L467.9,806.0 L468.5,807.5 L469.6,808.5 L471.1,807.8 L472.2,806.3 L473.4,804.6 L474.5,803.6 L475.9,803.0 L477.2,803.1 L478.5,804.2 L479.7,804.8 L480.9,805.9 L481.7,807.2 L482.6,808.3 L483.6,809.6 L484.7,811.5 L486.0,813.4 L486.6,815.0 L487.3,816.2 L488.7,818.0 L490.1,819.4 L491.6,820.2 L493.3,820.9 L494.9,821.5 L496.4,821.5 L498.2,821.5 L499.5,820.3 L500.6,819.5 L502.1,820.1 L503.4,821.4 L504.8,822.5 L506.3,823.2 L507.9,823.6 L509.6,823.8 L511.2,822.8 L512.3,821.5 L513.4,819.9 L514.5,818.3 L515.6,816.5 L516.6,815.7 L518.3,815.6 L519.9,815.6 L521.5,815.1 L522.6,813.9 L523.7,812.2 L524.7,810.8 L525.8,808.4 L526.9,806.6 L528.0,804.1 L529.1,802.4 L530.2,800.0 L531.3,797.7 L532.3,795.3 L533.2,793.9 L534.1,792.2 L534.9,790.9 L535.8,789.4 L536.6,788.0 L537.5,786.8 L538.4,786.0 L539.2,784.9 L540.1,783.4 L541.0,782.6 L542.3,781.5 L543.6,780.2 L544.9,779.0 L545.7,777.8 L546.7,777.0 L547.6,775.6 L548.5,774.1 L549.3,772.9 L549.9,771.2 L550.5,769.5 L551.0,767.1 L551.4,765.0 L551.7,763.9 L551.8,763.2" fill="none" stroke="#D95319" stroke-width="3.5" stroke-linejoin="round" stroke-linecap="round" clip-path="url(#clip2)"/>
<path d="M40.0,863.5 L42.4,864.0 L44.1,862.9 L45.9,863.2 L47.9,862.9 L49.9,862.6 L52.0,862.5 L54.1,862.4 L56.1,862.3 L58.0,862.2 L59.8,862.1 L61.6,861.6 L63.5,861.5 L65.3,860.9 L67.1,860.5 L68.9,860.0 L70.7,859.4 L72.5,858.9 L74.3,859.1 L76.0,858.9 L77.7,859.0 L79.5,858.9 L81.2,858.4 L83.0,858.5 L84.7,858.4 L86.4,859.1 L88.0,858.9 L89.5,859.1 L91.0,858.9 L92.3,859.0 L94.5,859.7 L96.3,860.4 L97.9,861.3 L99.5,861.5 L101.3,863.1 L103.3,863.9 L105.5,865.5 L106.6,866.3 L107.7,867.1 L108.8,868.1 L109.9,869.0 L111.0,869.6 L113.2,870.7 L115.4,872.2 L117.6,873.4 L119.8,874.8 L121.9,875.9 L123.9,876.7 L125.8,878.1 L127.6,879.5 L129.3,881.2 L131.0,882.6 L131.9,883.9 L132.8,884.9 L133.6,885.8 L134.4,887.7 L135.2,889.3 L136.1,890.9 L136.9,891.9 L137.7,894.1 L138.5,895.3 L139.2,896.2 L140.0,897.9 L140.7,898.7 L141.5,900.1 L142.2,902.2 L142.9,903.7 L143.5,904.4 L144.9,906.1 L146.4,907.5 L148.0,906.9 L149.8,905.1 L150.8,903.5 L151.7,903.3 L152.6,901.1 L153.6,899.6 L154.5,899.0 L155.4,898.1 L157.0,896.2 L158.4,895.7 L159.7,894.4 L161.0,893.6 L162.5,892.6 L164.4,890.8 L165.4,890.1 L166.5,889.7 L167.7,887.7 L168.9,886.9 L170.1,886.0 L171.2,884.7 L172.3,884.0 L174.2,882.3 L175.7,882.3 L177.5,883.0 L179.0,884.3 L180.5,884.6 L181.9,884.0 L183.1,883.5 L184.5,883.9 L186.1,883.1 L187.9,881.6 L189.5,881.5 L190.9,881.3 L192.0,882.0 L192.9,882.9 L193.7,884.7 L194.5,886.3 L195.2,888.1 L195.9,889.9 L196.7,890.9 L197.6,891.3 L199.0,891.9 L200.4,892.4 L201.5,891.8 L202.3,890.5 L203.1,888.6 L204.1,887.7 L204.8,886.4 L205.9,884.5 L207.0,883.9 L208.3,884.3 L209.5,885.0 L210.9,884.1 L211.7,882.8 L212.5,881.4 L213.4,879.0 L214.2,878.1 L215.5,876.8 L216.8,876.1 L218.2,875.2 L219.7,875.2 L221.3,874.5 L223.0,873.9 L224.7,872.9 L226.2,872.6 L227.9,871.8 L229.2,871.6 L230.8,871.0 L232.7,871.0 L234.8,870.8 L236.9,870.4 L239.0,870.3 L240.9,869.5 L242.8,868.7 L244.6,867.9 L246.3,866.7 L248.1,866.7 L249.9,866.0 L251.4,865.3 L252.9,865.0 L254.6,864.3 L256.7,864.4 L259.5,863.6 L261.1,863.8 L263.0,863.7 L264.9,863.6 L266.9,863.9 L268.9,863.3 L270.8,864.1 L272.7,863.1 L274.5,863.4 L276.0,862.5 L277.4,863.1 L278.7,862.3 L281.0,862.2 L283.1,861.7 L285.0,861.6 L286.8,861.4 L288.4,861.2 L289.8,860.8 L291.2,861.5 L292.5,861.1 L294.0,862.1 L295.7,863.5 L296.6,864.6 L297.5,865.4 L298.4,866.8 L299.4,868.3 L300.3,869.2 L301.3,870.7 L302.2,871.6 L303.1,873.3 L304.0,873.9 L305.0,875.5 L305.9,876.1 L306.9,877.0 L307.9,878.3 L308.8,879.4 L309.7,880.6 L310.6,881.7 L311.4,882.7 L312.1,883.3 L312.8,885.5 L313.4,887.0 L313.9,889.2 L314.4,891.6 L314.9,893.0 L315.4,895.6 L315.8,897.6 L316.2,898.3 L317.1,898.9 L317.9,897.5 L318.3,895.2 L318.7,893.2 L319.1,890.8 L319.4,887.3 L319.8,885.3 L320.2,882.3 L320.6,880.5 L321.1,879.4 L322.1,876.7 L323.2,875.3 L324.3,874.4 L326.0,874.0 L327.6,874.1 L328.8,874.7 L330.0,875.4 L331.0,876.6 L331.9,878.4 L332.5,879.9 L332.9,882.2 L333.3,885.1 L333.6,886.9 L334.0,888.6 L334.7,890.9 L335.8,891.6 L337.1,890.7 L337.8,890.0 L338.7,889.4 L339.6,888.3 L340.7,886.2 L341.6,887.5 L342.1,888.9 L342.5,890.2 L343.7,890.1 L344.9,889.4 L345.7,887.5 L346.6,885.5 L347.4,883.1 L348.2,881.2 L348.6,880.1 L348.9,878.7 L349.3,877.5 L349.7,876.0 L350.1,875.2 L350.9,872.7 L351.9,870.4 L352.8,869.3 L353.8,868.6 L354.9,867.4 L356.1,867.1 L357.4,865.5 L358.9,864.7 L360.5,863.8 L362.2,862.3 L363.9,862.2 L365.5,861.1 L367.2,860.6 L368.9,860.3 L370.5,859.8 L372.0,859.8 L373.4,860.7 L375.1,860.4 L376.7,860.8 L378.1,861.5 L379.5,862.3 L380.7,862.6 L381.8,863.7 L382.6,864.9 L383.4,866.1 L383.8,867.4 L384.3,870.4 L384.6,872.0 L384.9,874.3 L385.3,876.6 L385.7,879.7 L386.1,882.9 L386.5,885.9 L386.8,889.3 L387.2,892.7 L387.6,896.3 L387.9,900.0 L388.2,903.9 L388.5,908.3 L388.8,912.6 L389.0,917.3 L389.3,922.0 L389.6,926.3 L389.8,931.2 L390.1,935.3 L390.4,939.1 L390.7,943.0 L391.0,946.6 L391.4,949.9 L391.7,954.3 L392.1,957.2 L392.5,960.6 L392.8,963.1 L393.2,965.9 L393.6,968.0 L393.9,969.3 L394.7,970.5 L395.4,968.8 L395.7,967.3 L396.1,965.1 L396.4,963.2 L396.8,960.6 L397.1,958.0 L397.5,955.2 L397.9,953.2 L398.3,950.5 L398.7,948.0 L399.2,943.8 L399.6,940.8 L400.0,937.1 L400.5,933.5 L400.9,930.2 L401.4,927.3 L401.8,924.5 L402.2,923.4 L403.0,921.1 L404.1,920.9 L404.8,922.4 L405.5,924.0 L405.8,925.6 L406.1,927.3 L406.4,929.2 L406.7,932.0 L407.0,934.8 L407.3,937.2 L407.6,939.9 L407.9,942.9 L408.1,945.4 L408.4,948.1 L408.7,950.4 L409.0,952.4 L409.3,954.5 L409.5,956.8 L409.8,958.9 L410.1,961.0 L410.3,962.4 L410.6,964.1 L410.9,965.6 L411.5,967.6 L412.5,968.0 L413.6,967.3 L414.3,964.8 L414.7,962.5 L415.1,960.5 L415.5,956.7 L415.9,953.0 L416.4,947.8 L416.8,943.0 L417.2,937.4 L417.7,931.9 L418.1,926.5 L418.6,921.9 L419.0,918.5 L419.4,915.8 L419.8,914.7 L420.9,915.1 L421.2,916.9 L421.5,918.4 L421.9,919.4 L422.2,920.8 L423.0,922.1 L424.2,920.2 L425.1,917.6 L425.9,915.8 L426.8,914.3 L428.3,916.0 L428.8,917.0 L429.4,918.8 L429.9,920.9 L430.4,922.2 L430.9,924.2 L431.4,925.9 L432.3,927.5 L433.5,926.7 L434.0,926.1 L434.5,923.8 L435.0,922.2 L435.6,919.6 L435.9,917.7 L436.2,916.1 L436.6,913.7 L436.9,912.5 L437.2,910.9 L437.5,909.3 L438.2,907.3 L439.2,906.4 L440.4,907.2 L441.5,908.3 L442.3,910.0 L443.0,912.1 L443.9,914.1 L444.8,916.0 L445.8,916.5 L447.7,916.4 L449.1,915.9 L450.4,914.5 L451.7,914.1 L453.3,914.2 L454.5,914.9 L455.7,915.5 L457.1,913.8 L457.6,912.4 L458.2,910.8 L458.7,908.6 L459.3,906.5 L459.9,904.2 L460.4,902.5 L461.0,900.6 L461.5,899.6 L462.5,898.4 L463.9,899.0 L464.8,901.0 L465.6,902.2 L466.8,903.0 L467.7,900.7 L468.2,899.6 L468.8,898.3 L470.1,898.2 L471.1,899.0 L472.2,900.6 L473.4,902.6 L474.5,903.4 L475.9,904.4 L477.6,904.2 L478.8,903.4 L479.8,902.2 L480.8,900.9 L481.9,899.4 L483.0,898.3 L484.2,896.2 L485.2,894.6 L486.3,892.3 L487.3,890.0 L488.3,888.2 L489.5,885.8 L490.8,885.2 L492.3,884.5 L494.0,884.4 L495.6,884.3 L497.1,884.6 L498.8,885.1 L500.1,886.6 L501.3,887.1 L502.7,887.1 L503.6,886.1 L504.5,885.1 L505.8,884.5 L507.3,883.9 L509.0,883.7 L510.7,884.4 L511.8,885.1 L512.9,886.8 L513.9,888.8 L515.0,889.8 L516.1,890.9 L517.7,891.3 L519.3,891.6 L521.0,892.0 L522.0,892.6 L523.1,893.9 L524.2,895.8 L525.3,897.2 L526.4,899.0 L527.4,900.3 L528.6,902.1 L529.7,903.4 L530.8,904.6 L531.8,906.2 L532.8,908.8 L533.6,910.5 L534.0,911.8 L534.5,912.8 L534.9,914.7 L535.3,915.9 L536.1,918.2 L537.1,919.7 L538.1,921.5 L539.2,922.5 L540.3,923.6 L541.5,925.0 L542.5,926.4 L543.7,927.8 L544.8,929.3 L545.9,931.0 L546.9,932.5 L547.8,933.9 L548.6,935.7 L549.3,937.2 L549.9,938.9 L550.4,940.3 L551.0,941.5 L551.7,942.8 L552.4,944.5 L552.8,945.1" fill="none" stroke="#EDB120" stroke-width="3.5" stroke-linejoin="round" stroke-linecap="round" clip-path="url(#clip2)"/>
<path d="M40.0,847.7 L42.4,847.5 L44.1,847.0 L45.9,847.9 L47.9,848.3 L49.9,847.4 L52.0,847.6 L54.1,847.5 L56.1,847.2 L58.0,847.1 L59.8,847.0 L61.7,846.4 L63.5,845.8 L65.4,845.5 L67.2,846.1 L69.1,845.8 L70.9,845.4 L72.6,844.5 L74.3,845.0 L76.0,845.0 L77.6,844.6 L79.2,844.6 L80.8,845.5 L82.3,845.2 L83.8,845.0 L85.3,844.8 L86.7,844.6 L88.0,844.7 L90.5,845.2 L92.7,845.1 L94.6,845.9 L96.3,847.2 L97.9,846.8 L99.5,847.4 L101.0,848.6 L102.4,848.5 L103.8,848.7 L105.2,848.5 L106.7,848.1 L108.4,848.6 L110.1,846.8 L111.9,847.0 L113.8,845.8 L115.7,845.0 L117.8,843.2 L120.0,843.0 L121.1,842.2 L122.2,841.4 L123.3,840.8 L125.5,838.8 L127.5,838.0 L129.5,836.7 L131.4,835.1 L133.2,832.6 L134.8,832.1 L136.1,830.6 L137.1,828.6 L137.9,827.4 L138.6,826.1 L139.5,823.9 L140.6,822.4 L141.2,820.6 L141.9,819.2 L142.6,818.2 L143.3,816.5 L144.1,815.1 L145.6,814.0 L147.2,813.4 L148.9,814.9 L149.8,815.7 L150.8,817.4 L151.7,819.4 L152.6,820.8 L153.6,822.6 L154.5,824.4 L155.4,825.5 L156.2,827.0 L157.7,828.0 L159.0,829.8 L160.3,831.4 L161.8,831.6 L163.4,832.2 L165.4,833.0 L166.5,833.8 L167.7,834.7 L168.9,835.2 L170.1,836.2 L172.3,837.1 L174.2,838.0 L175.7,837.6 L176.9,837.5 L178.5,836.7 L180.0,835.3 L181.4,835.6 L182.7,835.9 L184.0,836.3 L185.6,837.3 L186.7,837.5 L187.8,837.9 L189.4,838.3 L190.7,837.8 L191.8,836.9 L192.8,835.5 L193.8,833.7 L194.5,832.3 L195.2,831.4 L196.1,829.6 L197.2,829.5 L198.3,829.9 L199.6,830.4 L200.7,829.5 L202.0,830.1 L203.0,830.9 L203.9,832.6 L204.8,833.7 L205.8,835.3 L206.7,836.7 L208.1,837.1 L209.1,835.8 L210.3,836.7 L211.2,837.6 L212.2,838.4 L213.3,839.8 L214.3,841.4 L215.5,841.8 L216.9,842.3 L218.6,842.9 L219.9,843.5 L221.2,844.1 L222.5,844.3 L223.8,844.8 L225.1,845.4 L226.4,845.5 L227.7,846.2 L229.2,846.4 L230.9,846.8 L232.8,847.0 L234.9,847.4 L237.0,847.5 L239.0,848.3 L240.9,847.5 L242.8,847.3 L244.6,846.3 L246.3,846.0 L248.1,845.4 L249.9,845.3 L251.4,844.8 L252.9,843.5 L254.6,843.7 L256.7,842.8 L259.5,842.9 L261.1,842.4 L262.9,842.6 L264.8,842.3 L266.8,841.8 L268.8,842.5 L270.7,842.2 L272.6,842.3 L274.4,842.6 L276.0,842.8 L277.5,843.6 L279.0,842.8 L280.4,843.4 L281.8,843.7 L283.1,844.8 L284.3,844.7 L286.6,845.4 L288.6,846.1 L290.1,846.1 L291.5,846.0 L292.8,844.6 L294.0,844.1 L295.6,842.8 L297.4,840.5 L298.3,840.0 L299.3,838.4 L300.3,837.1 L301.2,836.1 L302.2,835.3 L303.1,834.5 L304.0,833.0 L305.0,832.4 L305.9,831.2 L306.9,830.1 L307.9,829.2 L309.7,828.0 L311.4,825.8 L312.8,824.3 L314.0,822.6 L315.0,820.3 L315.9,818.0 L316.7,817.1 L317.8,817.8 L318.5,818.8 L319.0,821.9 L319.6,823.8 L320.2,826.3 L320.8,827.5 L321.5,829.3 L322.1,831.2 L322.9,832.5 L324.3,834.1 L326.2,833.8 L327.6,833.7 L328.9,834.0 L330.0,833.0 L331.0,831.3 L331.8,829.9 L332.6,828.3 L333.3,826.2 L334.0,824.4 L334.7,823.5 L335.4,822.4 L336.3,821.2 L337.6,820.5 L338.7,821.6 L339.4,822.2 L340.4,823.5 L341.8,823.7 L343.1,823.6 L344.6,824.2 L345.9,824.5 L347.1,827.0 L348.0,828.9 L348.9,831.2 L349.9,833.1 L350.9,835.0 L351.9,836.2 L352.9,837.1 L354.4,838.4 L355.5,839.2 L356.7,839.8 L358.1,841.2 L359.7,842.8 L361.4,843.7 L363.1,845.4 L364.7,845.8 L366.3,847.2 L368.0,847.8 L369.7,849.3 L371.3,849.9 L372.7,850.5 L374.0,850.9 L375.6,851.1 L377.1,851.4 L378.6,850.7 L380.2,849.2 L381.6,849.0 L382.8,847.7 L383.6,845.1 L384.0,845.0 L384.3,843.1 L384.6,841.4 L385.0,838.6 L385.2,837.0 L385.4,834.9 L385.7,833.0 L385.9,830.7 L386.1,829.1 L386.3,827.0 L386.5,825.3 L386.7,823.9 L386.9,822.3 L387.1,824.3 L387.3,824.8 L387.6,821.5 L387.8,819.2 L388.0,815.5 L388.3,812.0 L388.6,808.0 L388.9,804.3 L389.1,800.4 L389.4,796.3 L389.7,793.3 L390.0,789.8 L390.3,787.4 L390.5,784.8 L390.8,782.0 L391.1,780.2 L391.4,777.6 L391.7,775.2 L391.9,773.5 L392.2,771.8 L392.5,770.0 L392.7,768.6 L393.1,767.1 L393.7,765.9 L394.7,766.2 L395.5,768.6 L396.0,769.8 L396.6,772.3 L396.8,774.0 L397.1,775.3 L397.4,776.9 L397.7,778.7 L397.9,779.8 L398.2,782.0 L398.5,783.8 L398.8,785.6 L399.0,787.7 L399.3,789.4 L399.6,791.3 L399.8,793.2 L400.1,794.4 L400.6,796.4 L401.2,797.5 L402.0,798.6 L402.9,800.4 L403.5,801.1 L404.5,800.6 L404.9,798.4 L405.2,796.3 L405.5,794.3 L405.7,791.7 L406.0,789.2 L406.3,786.6 L406.6,783.5 L406.8,781.2 L407.1,778.7 L407.4,776.8 L407.7,775.0 L407.9,773.4 L408.2,770.8 L408.5,769.9 L408.7,767.7 L409.0,766.2 L409.3,764.8 L409.8,762.9 L410.4,761.6 L411.5,761.2 L412.3,762.9 L412.8,765.0 L413.3,766.8 L413.8,769.1 L414.1,770.9 L414.4,772.5 L414.6,774.5 L414.9,775.8 L415.1,777.6 L415.4,779.4 L415.7,781.5 L415.9,783.7 L416.2,786.0 L416.5,788.6 L416.8,790.6 L417.1,793.3 L417.3,795.3 L417.6,797.5 L417.9,799.5 L418.1,801.3 L418.3,802.1 L418.5,804.1 L418.9,805.4 L419.3,807.5 L419.9,808.8 L420.8,807.2 L421.3,805.4 L421.9,802.5 L422.5,801.0 L423.5,801.5 L424.3,803.1 L425.2,804.2 L426.0,805.7 L427.2,806.1 L427.9,804.8 L428.5,802.4 L429.2,800.6 L429.8,798.7 L430.4,797.4 L431.2,796.2 L432.3,795.2 L433.3,796.2 L433.9,798.5 L434.4,799.7 L435.0,801.6 L435.5,804.0 L436.0,805.5 L436.3,807.7 L436.8,809.4 L437.3,811.1 L438.8,811.8 L440.2,809.5 L440.9,808.2 L441.8,806.8 L442.6,805.4 L443.4,804.4 L444.3,802.4 L445.8,800.8 L447.2,801.1 L448.6,801.3 L449.9,802.1 L451.2,803.0 L452.8,803.2 L454.1,802.9 L455.6,802.6 L457.2,804.4 L457.8,805.3 L458.5,806.4 L459.2,808.1 L459.9,809.9 L460.6,811.5 L461.3,813.3 L462.0,814.2 L463.1,816.3 L464.3,816.1 L465.2,814.5 L466.1,813.4 L467.3,814.6 L467.9,815.9 L468.5,817.5 L469.6,818.6 L471.1,816.8 L472.2,815.0 L473.4,813.1 L474.5,811.1 L475.9,810.7 L477.2,811.6 L478.5,812.4 L479.7,813.2 L480.9,814.7 L482.1,815.6 L483.1,816.6 L484.2,818.1 L485.4,819.9 L486.6,821.6 L488.0,823.7 L489.4,825.4 L490.8,826.6 L492.4,827.2 L494.0,827.5 L495.6,828.0 L497.1,828.2 L498.8,827.9 L500.1,827.2 L501.2,826.2 L502.9,825.8 L504.1,827.1 L505.5,828.0 L506.9,827.8 L508.5,828.3 L510.1,828.0 L511.8,827.1 L512.9,826.1 L513.9,824.4 L515.0,823.1 L516.1,821.7 L517.2,820.3 L519.0,820.3 L521.0,820.6 L522.3,820.2 L523.6,819.9 L524.9,818.0 L526.2,815.8 L526.8,814.7 L527.5,813.3 L528.1,812.0 L528.8,810.7 L529.4,809.3 L530.8,807.4 L532.0,805.9 L533.4,804.5 L534.6,802.4 L536.0,800.3 L537.3,799.3 L538.6,797.0 L539.9,795.2 L541.2,793.7 L542.5,792.1 L543.7,790.9 L544.9,789.9 L546.5,789.0 L548.0,788.5 L549.3,787.6 L550.5,786.5 L551.4,785.6 L551.8,784.9" fill="none" stroke="#7E2F8E" stroke-width="3.5" stroke-linejoin="round" stroke-linecap="round" clip-path="url(#clip2)"/>
<path d="M40.0,859.4 L42.4,859.0 L44.0,860.1 L45.8,859.8 L47.8,859.6 L49.8,860.1 L51.9,859.6 L54.0,860.8 L56.0,860.4 L58.0,860.3 L59.9,860.7 L62.0,860.3 L64.0,861.0 L66.1,861.4 L68.2,861.6 L70.3,861.7 L72.3,861.4 L74.3,862.0 L76.1,861.6 L77.8,862.2 L79.4,862.0 L80.9,861.9 L82.2,862.3 L83.6,862.6 L86.0,862.3 L88.3,861.4 L90.5,861.1 L92.6,860.5 L94.4,860.1 L96.1,859.8 L97.8,859.4 L99.5,858.7 L101.2,858.4 L102.8,857.6 L104.4,857.5 L106.0,857.9 L107.6,858.0 L109.2,858.3 L110.8,859.0 L112.4,860.1 L114.0,860.9 L115.7,861.8 L117.4,863.1 L119.2,863.4 L121.1,864.7 L122.9,865.2 L124.7,866.6 L126.5,868.3 L128.4,869.3 L130.3,870.5 L132.1,872.2 L133.7,873.3 L135.1,876.0 L136.4,877.7 L137.5,879.9 L138.7,882.2 L140.0,884.5 L141.4,886.6 L142.0,888.0 L142.7,889.7 L143.4,890.8 L144.1,892.3 L145.6,893.9 L147.2,894.5 L148.9,892.5 L149.8,891.6 L150.8,890.2 L151.7,888.7 L152.6,886.6 L153.6,885.2 L154.5,883.8 L155.4,881.8 L156.2,880.7 L157.7,879.3 L159.0,878.8 L160.3,877.7 L161.8,877.4 L163.4,876.4 L165.4,874.8 L166.5,873.7 L167.7,874.1 L168.9,872.9 L170.1,872.0 L171.2,870.4 L173.3,869.9 L175.0,869.0 L176.3,868.9 L178.0,870.0 L179.5,870.9 L181.0,871.7 L182.3,871.0 L183.6,870.6 L185.0,870.3 L186.7,869.6 L188.5,868.4 L189.9,868.9 L191.4,869.0 L192.3,870.2 L193.3,871.9 L194.0,872.7 L194.8,875.0 L195.5,875.5 L196.5,876.8 L197.9,876.8 L199.2,878.0 L200.5,877.6 L201.9,876.6 L202.7,875.3 L203.5,874.1 L204.3,872.9 L205.1,871.8 L206.2,870.3 L207.6,869.8 L208.9,870.4 L210.2,871.0 L211.2,870.1 L212.0,868.6 L212.7,868.0 L213.4,866.5 L214.6,865.1 L215.7,864.6 L216.9,864.0 L218.3,863.2 L219.8,862.8 L221.4,861.9 L223.2,861.7 L225.0,861.6 L226.3,860.7 L227.7,861.0 L229.2,860.1 L230.9,860.1 L232.8,859.5 L234.9,858.8 L237.0,858.3 L239.0,858.7 L240.9,859.0 L242.8,859.3 L244.6,860.1 L246.3,860.2 L248.1,861.6 L249.9,862.6 L251.4,863.1 L252.9,863.3 L254.6,863.3 L256.7,864.1 L259.5,863.9 L261.1,864.3 L263.0,864.5 L264.9,863.9 L266.9,864.1 L268.9,864.2 L270.8,864.2 L272.7,864.1 L274.5,864.3 L276.0,864.2 L277.4,863.6 L278.7,863.5 L281.0,863.4 L283.1,862.2 L285.0,861.8 L286.8,861.1 L288.3,861.2 L290.2,861.8 L291.9,862.1 L293.2,862.0 L294.7,863.9 L296.4,865.3 L297.2,866.3 L298.0,867.1 L298.9,868.6 L299.7,868.8 L301.3,871.6 L302.8,872.8 L304.2,874.3 L305.6,875.4 L307.0,878.2 L308.5,879.5 L309.3,880.3 L310.2,881.5 L311.1,883.1 L312.1,884.0 L313.0,885.6 L313.9,886.9 L314.8,887.6 L316.4,888.8 L317.7,889.1 L318.6,886.5 L319.0,885.0 L319.3,883.8 L319.6,882.6 L319.9,880.9 L320.3,878.6 L320.7,878.2 L321.6,875.4 L322.7,874.5 L323.8,873.9 L325.5,873.4 L326.9,873.2 L328.3,873.7 L329.3,874.1 L330.4,875.8 L331.2,877.8 L332.1,879.8 L332.9,881.5 L333.7,882.8 L334.3,884.2 L335.1,885.7 L336.1,885.4 L337.4,886.2 L338.7,884.9 L339.6,883.5 L340.7,882.0 L342.1,882.8 L343.1,883.6 L344.6,884.2 L345.7,882.8 L346.7,881.1 L347.4,879.3 L348.1,876.9 L349.0,874.6 L350.0,872.4 L351.1,871.2 L352.4,870.2 L353.8,868.9 L355.2,866.9 L356.7,866.1 L358.2,865.1 L359.8,864.2 L361.4,862.8 L363.1,861.8 L364.7,860.9 L366.3,860.1 L368.0,859.0 L369.7,857.9 L371.3,857.3 L372.7,856.8 L374.0,856.3 L375.7,856.1 L377.2,856.0 L378.6,855.8 L379.9,857.3 L381.0,857.4 L382.1,858.5 L383.3,859.4 L384.4,860.0 L385.0,861.3 L385.6,863.8 L385.9,864.9 L386.2,866.4 L386.5,868.2 L386.7,869.7 L387.0,871.9 L387.3,873.9 L387.6,876.5 L387.9,878.8 L388.2,881.7 L388.5,884.9 L388.7,888.3 L389.0,892.0 L389.3,895.8 L389.6,899.7 L389.9,904.2 L390.1,907.4 L390.4,911.4 L390.7,914.5 L391.0,917.5 L391.3,921.1 L391.5,924.6 L391.8,928.0 L392.1,931.2 L392.4,933.9 L392.7,936.6 L393.0,938.7 L393.3,940.4 L393.9,942.4 L395.0,941.1 L395.7,938.3 L396.1,936.7 L396.5,934.9 L396.8,933.3 L397.2,931.5 L397.6,930.0 L397.9,927.9 L398.3,925.5 L398.6,923.5 L399.0,920.4 L399.4,918.2 L399.7,915.9 L400.1,913.4 L400.4,911.9 L400.8,910.0 L401.5,908.1 L402.2,906.5 L403.3,905.8 L404.8,906.0 L405.5,908.0 L406.2,910.1 L406.9,912.3 L407.2,913.5 L407.6,915.5 L407.9,917.1 L408.2,919.8 L408.5,922.5 L408.8,925.5 L409.1,929.6 L409.3,932.7 L409.6,936.5 L409.9,939.3 L410.2,941.9 L410.5,943.8 L411.1,945.8 L412.2,943.8 L412.6,942.2 L413.0,941.0 L413.4,938.8 L413.7,937.3 L414.1,935.0 L414.4,932.7 L414.7,930.9 L415.0,929.1 L415.3,927.1 L415.6,924.2 L415.9,921.5 L416.2,919.0 L416.4,916.9 L416.7,914.7 L416.9,912.1 L417.2,910.0 L417.4,908.1 L417.7,906.7 L417.9,904.5 L418.1,902.9 L418.2,901.3 L418.4,900.2 L418.9,897.3 L419.7,896.5 L420.4,898.3 L420.7,900.0 L421.1,901.1 L421.5,902.9 L421.9,904.0 L422.6,905.8 L423.7,905.8 L424.3,904.3 L425.0,901.6 L425.7,899.6 L427.1,899.9 L428.3,902.1 L428.9,904.0 L429.5,905.7 L430.1,907.5 L430.7,909.0 L431.3,910.7 L432.3,911.3 L433.3,910.5 L433.8,907.3 L434.0,906.8 L434.2,905.2 L434.7,902.8 L435.3,901.0 L435.9,899.6 L436.6,897.9 L437.2,896.8 L438.2,895.4 L439.5,895.5 L440.8,897.1 L441.9,898.3 L442.6,900.1 L443.5,902.1 L444.3,904.3 L445.3,905.7 L447.0,906.1 L448.3,905.4 L449.8,905.0 L451.1,903.2 L452.3,902.7 L453.7,903.0 L454.9,903.8 L456.1,903.5 L457.1,902.1 L457.6,900.8 L458.2,899.2 L458.8,897.2 L459.4,895.5 L459.9,894.0 L460.5,892.4 L461.0,890.6 L462.0,889.0 L463.1,889.3 L463.7,890.9 L464.3,892.6 L464.9,894.3 L466.1,894.1 L466.9,892.4 L467.8,890.8 L468.7,889.5 L470.0,889.1 L470.9,889.7 L471.7,891.9 L472.5,893.5 L473.4,895.2 L474.9,896.1 L476.5,896.7 L478.2,897.3 L479.8,896.5 L480.9,895.3 L482.0,893.6 L483.1,892.2 L484.2,890.6 L485.2,889.2 L486.3,887.3 L487.3,885.4 L488.3,883.7 L489.5,881.7 L490.8,880.5 L492.3,880.1 L494.0,879.7 L495.6,879.4 L497.1,879.6 L498.8,879.3 L500.1,880.2 L501.3,881.1 L502.7,881.0 L503.9,880.3 L505.3,879.3 L506.8,879.2 L508.4,878.3 L510.2,878.7 L511.8,880.2 L512.9,881.3 L513.9,882.5 L515.0,883.8 L516.1,884.8 L517.7,884.9 L519.3,885.3 L521.0,885.5 L522.0,886.1 L523.1,887.1 L524.2,888.7 L525.3,889.9 L526.4,891.3 L527.4,892.7 L528.5,894.5 L529.6,896.4 L530.7,898.0 L531.8,899.8 L532.8,901.9 L533.9,903.4 L535.0,905.5 L536.1,907.2 L537.2,908.2 L538.2,910.3 L539.4,911.4 L540.5,912.2 L541.6,913.4 L542.6,914.3 L543.6,915.3 L544.5,916.2 L545.7,917.9 L547.0,918.9 L548.3,920.0 L549.9,920.8 L551.2,921.0 L551.8,921.4" fill="none" stroke="#77AC30" stroke-width="3.5" stroke-linejoin="round" stroke-linecap="round" clip-path="url(#clip2)"/>
<line x1="245.5" y1="701.7" x2="245.5" y2="1006.1" stroke="#383838" stroke-width="1.3"/>
<line x1="378.5" y1="701.7" x2="378.5" y2="1006.1" stroke="#383838" stroke-width="1.3"/>
<rect x="40.0" y="701.7" width="511.79999999999995" height="304.4" fill="none" stroke="#5a5a5a" stroke-width="1.7"/>
<text x="35" y="1010.15" text-anchor="end" font-size="17.5">-8</text>
<line x1="40.0" y1="968.05" x2="45.6" y2="968.05" stroke="#333" stroke-width="1.4"/>
<text x="35" y="977.85" text-anchor="end" font-size="17.5">-6</text>
<line x1="40.0" y1="930.00" x2="45.6" y2="930.00" stroke="#333" stroke-width="1.4"/>
<text x="35" y="936.60" text-anchor="end" font-size="17.5">-4</text>
<line x1="40.0" y1="891.95" x2="45.6" y2="891.95" stroke="#333" stroke-width="1.4"/>
<text x="35" y="899.00" text-anchor="end" font-size="17.5">-2</text>
<line x1="40.0" y1="853.90" x2="45.6" y2="853.90" stroke="#333" stroke-width="1.4"/>
<text x="35" y="861.50" text-anchor="end" font-size="17.5">0</text>
<line x1="40.0" y1="815.85" x2="45.6" y2="815.85" stroke="#333" stroke-width="1.4"/>
<text x="35" y="821.60" text-anchor="end" font-size="17.5">2</text>
<line x1="40.0" y1="777.80" x2="45.6" y2="777.80" stroke="#333" stroke-width="1.4"/>
<text x="35" y="782.90" text-anchor="end" font-size="17.5">4</text>
<line x1="40.0" y1="739.75" x2="45.6" y2="739.75" stroke="#333" stroke-width="1.4"/>
<text x="35" y="747.40" text-anchor="end" font-size="17.5">6</text>
<text x="35" y="708.70" text-anchor="end" font-size="17.5">8</text>
<text x="48.40" y="1025.70" text-anchor="middle" font-size="17.5">4000</text>
<line x1="115.70" y1="1006.1" x2="115.70" y2="1000.5" stroke="#333" stroke-width="1.4"/>
<text x="118.10" y="1025.70" text-anchor="middle" font-size="17.5">3500</text>
<line x1="190.90" y1="1006.1" x2="190.90" y2="1000.5" stroke="#333" stroke-width="1.4"/>
<text x="194.60" y="1025.70" text-anchor="middle" font-size="17.5">3000</text>
<line x1="266.10" y1="1006.1" x2="266.10" y2="1000.5" stroke="#333" stroke-width="1.4"/>
<text x="268.80" y="1025.70" text-anchor="middle" font-size="17.5">2500</text>
<line x1="341.30" y1="1006.1" x2="341.30" y2="1000.5" stroke="#333" stroke-width="1.4"/>
<text x="343.80" y="1025.70" text-anchor="middle" font-size="17.5">2000</text>
<line x1="416.50" y1="1006.1" x2="416.50" y2="1000.5" stroke="#333" stroke-width="1.4"/>
<text x="420.00" y="1025.70" text-anchor="middle" font-size="17.5">1500</text>
<line x1="491.70" y1="1006.1" x2="491.70" y2="1000.5" stroke="#333" stroke-width="1.4"/>
<text x="495.40" y="1025.70" text-anchor="middle" font-size="17.5">1000</text>
<text x="236" y="1042.90" font-size="17">Wavenumber (cm<tspan font-size="11" dy="-5.3">-1</tspan><tspan dy="5.3">)</tspan></text>
<text transform="translate(13.6,853.9) rotate(-90)" text-anchor="middle" font-size="17.2">ATR Transmission %</text>
<rect x="48.9" y="708.00" width="192.0" height="83.00" fill="#fff" stroke="#666" stroke-width="1.5"/>
<line x1="53.0" y1="717.20" x2="80.0" y2="717.20" stroke="#0072BD" stroke-width="3.4"/>
<text x="86.80" y="723.40" font-size="17.2">Difference spectrum</text>
<line x1="53.0" y1="735.30" x2="80.0" y2="735.30" stroke="#D95319" stroke-width="3.4"/>
<text x="86.80" y="739.40" font-size="17.2">+<tspan dx="-0.7"> SD adolescent</tspan></text>
<line x1="53.0" y1="750.60" x2="80.0" y2="750.60" stroke="#EDB120" stroke-width="3.4"/>
<text x="86.80" y="755.40" font-size="17.2">-<tspan dx="0.9"> SD adolescent</tspan></text>
<line x1="53.0" y1="766.60" x2="80.0" y2="766.60" stroke="#7E2F8E" stroke-width="3.4"/>
<text x="86.80" y="771.70" font-size="17.2">+<tspan dx="-0.7"> SD adult</tspan></text>
<line x1="53.0" y1="782.80" x2="80.0" y2="782.80" stroke="#77AC30" stroke-width="3.4"/>
<text x="86.80" y="787.60" font-size="17.2">-<tspan dx="0.9"> SD adult</tspan></text>
<text x="313.30" y="928.80" text-anchor="middle" font-size="17">Predominant</text>
<text x="313.30" y="948.60" text-anchor="middle" font-size="17">contribution</text>
<text x="313.30" y="968.40" text-anchor="middle" font-size="17">from ATR crystal</text>
<text x="62.50" y="993.00" font-size="23">c</text>
</svg>
</body></html>
